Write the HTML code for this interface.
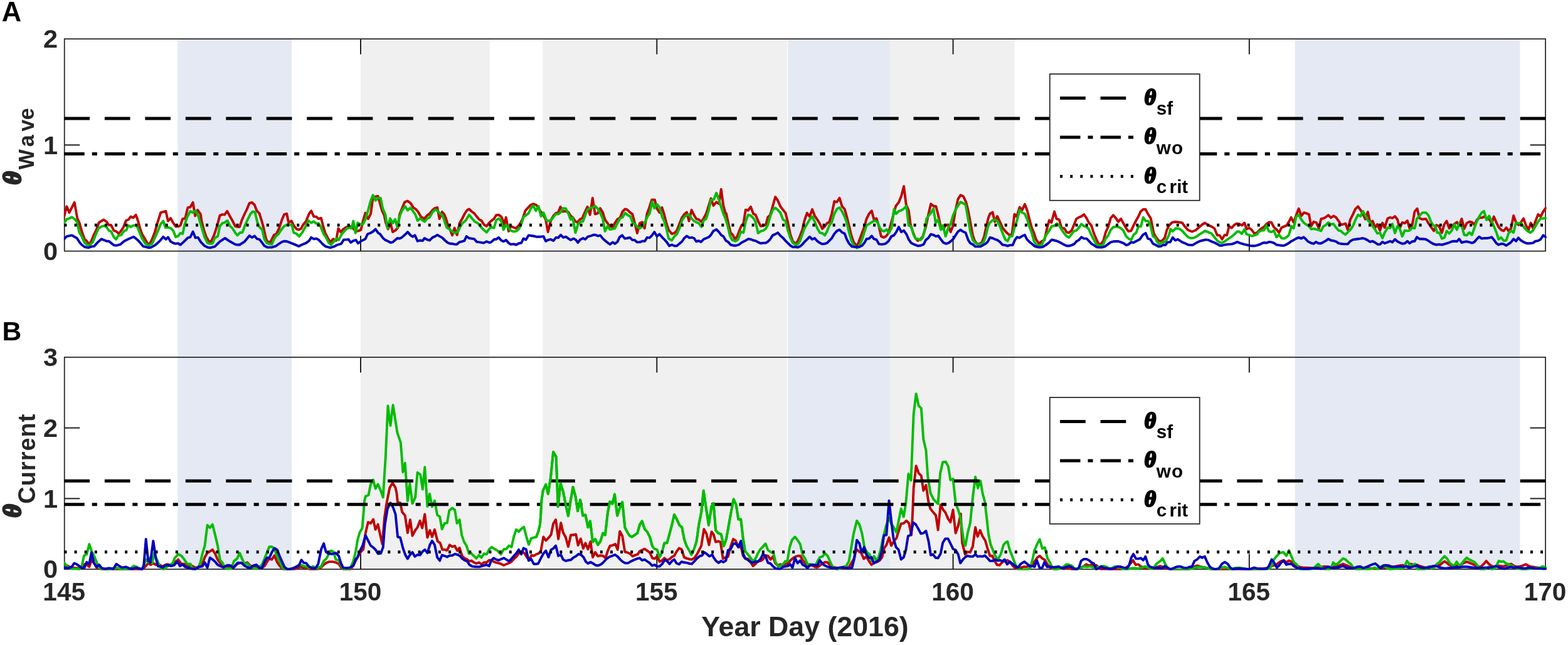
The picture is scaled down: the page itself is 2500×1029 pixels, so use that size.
<!DOCTYPE html>
<html lang="en"><head><meta charset="utf-8"><title>Figure</title>
<style>html,body{margin:0;padding:0;background:#fff;}body{width:2500px;height:1029px;overflow:hidden;}svg{display:block;}text{font-family:"Liberation Sans",sans-serif;font-weight:bold;fill:#262626;}.th{font-family:"Liberation Serif",serif;font-style:italic;font-weight:bold;}.k{fill:#000;}.th{stroke:#262626;stroke-width:3.1px;stroke-linejoin:round;}.th.k{stroke:#000;stroke-width:2.7px;}</style></head><body>
<svg width="2500" height="1029" viewBox="0 0 2500 1029">
<rect x="0" y="0" width="2500" height="1029" fill="#fff"/>
<defs><clipPath id="ca"><rect x="101.85" y="61.20" width="2363.95" height="341.10"/></clipPath>
<clipPath id="cg"><rect x="852" y="569.90" width="408" height="302.10"/></clipPath>
<clipPath id="cb"><rect x="101.85" y="569.00" width="2363.95" height="340.80"/></clipPath></defs>
<g shape-rendering="auto">
<rect x="575.0" y="62.9" width="205.8" height="845.2" fill="#f0f0f0"/>
<rect x="865.4" y="62.9" width="389.8" height="845.2" fill="#f0f0f0"/>
<rect x="1418.0" y="62.9" width="199.7" height="845.2" fill="#f0f0f0"/>
<rect x="283.4" y="62.9" width="181.6" height="845.2" fill="#e5e9f3"/>
<rect x="1256.4" y="62.9" width="162.3" height="845.2" fill="#e5e9f3"/>
<rect x="2064.7" y="62.9" width="358.7" height="845.2" fill="#e5e9f3"/>
</g>
<g stroke="#202020" stroke-width="2.0" fill="none">
<line x1="575.02" y1="400.60" x2="575.02" y2="376.10"/>
<line x1="575.02" y1="62.10" x2="575.02" y2="86.60"/>
<line x1="1047.29" y1="400.60" x2="1047.29" y2="376.10"/>
<line x1="1047.29" y1="62.10" x2="1047.29" y2="86.60"/>
<line x1="1519.56" y1="400.60" x2="1519.56" y2="376.10"/>
<line x1="1519.56" y1="62.10" x2="1519.56" y2="86.60"/>
<line x1="1991.83" y1="400.60" x2="1991.83" y2="376.10"/>
<line x1="1991.83" y1="62.10" x2="1991.83" y2="86.60"/>
<line x1="102.75" y1="231.35" x2="127.25" y2="231.35"/>
<line x1="2464.10" y1="231.35" x2="2439.60" y2="231.35"/>
</g>
<rect x="102.75" y="62.10" width="2361.35" height="338.50" fill="none" stroke="#262626" stroke-width="1.75"/>
<g fill="none" stroke-width="3.9" stroke-linejoin="round" stroke-linecap="round" clip-path="url(#ca)">
<path d="M101.7,347.4 L106.4,329.3 L110.5,339.2 L118.7,322.9 L123.3,348.5 L126.8,356.1 L130.3,369.0 L135.0,381.8 L137.9,384.1 L141.4,388.8 L144.9,385.9 L150.1,373.6 L153.6,366.6 L157.7,355.0 L165.3,350.5 L170.0,353.8 L173.5,359.0 L177.0,359.0 L181.6,367.8 L185.1,369.0 L189.2,372.5 L192.1,369.5 L196.8,362.5 L200.9,352.0 L204.9,350.3 L208.4,345.6 L212.5,347.4 L216.6,342.7 L220.1,352.6 L223.6,365.5 L226.5,373.6 L229.4,378.3 L235.3,388.8 L238.2,389.4 L241.7,383.5 L246.9,370.1 L251.6,353.8 L256.2,339.2 L264.4,336.9 L267.9,352.6 L272.0,348.0 L276.1,355.5 L280.2,361.4 L284.2,361.4 L287.7,359.6 L291.2,349.1 L295.3,348.5 L299.4,331.1 L303.5,330.5 L307.6,322.9 L311.1,344.5 L315.1,335.1 L319.8,341.6 L321.5,352.6 L325.0,366.6 L328.5,377.1 L333.2,385.3 L336.7,385.3 L341.4,374.8 L346.0,360.8 L350.5,343.9 L354.6,342.1 L358.1,342.7 L362.2,336.9 L366.8,345.6 L370.3,351.5 L375.0,360.8 L378.5,362.0 L382.0,362.0 L385.5,351.5 L390.1,341.0 L393.6,334.0 L397.7,324.1 L401.8,322.9 L405.9,327.0 L409.4,336.3 L413.5,340.4 L417.0,351.5 L420.5,364.3 L424.0,380.6 L426.3,385.3 L431.0,386.4 L433.3,381.8 L436.8,374.8 L440.3,373.6 L444.9,364.3 L449.6,350.3 L453.1,342.1 L457.2,341.0 L460.1,355.0 L464.8,352.6 L468.3,359.6 L472.9,365.5 L476.4,366.6 L479.9,364.9 L483.4,358.5 L488.1,352.6 L492.8,341.0 L496.2,336.3 L500.3,345.6 L503.8,345.6 L507.9,349.1 L512.0,348.0 L514.9,359.6 L518.4,371.3 L523.1,380.6 L526.6,386.4 L531.2,381.2 L535.9,384.1 L539.4,364.3 L542.9,370.1 L547.6,365.5 L552.2,362.5 L556.9,360.8 L561.5,362.5 L563.9,365.5 L567.4,369.0 L571.5,368.4 L575.5,366.6 L579.0,351.5 L582.5,339.8 L586.0,348.0 L587.0,349.1 L591.1,341.0 L594.6,315.3 L598.7,313.6 L602.7,313.0 L606.2,325.8 L609.2,336.3 L612.6,343.3 L615.0,355.0 L618.5,365.5 L622.6,356.1 L626.1,370.1 L630.1,367.8 L634.2,363.7 L637.1,342.1 L641.8,330.5 L645.3,322.3 L650.0,320.6 L654.6,324.1 L659.3,331.6 L662.8,333.4 L666.3,337.5 L671.0,345.6 L676.2,349.1 L681.4,343.3 L684.9,341.0 L689.6,335.1 L693.1,332.2 L697.2,331.1 L700.7,349.1 L704.8,338.1 L708.3,342.1 L711.2,349.1 L714.1,359.6 L717.6,366.6 L721.1,375.4 L724.6,363.7 L728.7,374.8 L732.8,356.1 L736.2,350.3 L740.9,341.0 L744.4,335.7 L747.9,333.4 L752.0,337.5 L756.1,340.4 L760.2,345.6 L764.2,350.3 L767.7,352.0 L771.8,358.5 L775.9,360.8 L779.4,356.1 L782.9,352.6 L787.6,349.1 L791.1,343.3 L795.1,342.7 L799.2,345.6 L801.5,350.3 L803.3,360.8 L806.8,346.8 L810.9,369.0 L814.4,360.8 L817.9,362.5 L822.5,364.3 L826.0,360.8 L829.3,356.7 L832.8,350.3 L837.5,336.3 L841.6,331.6 L846.2,327.0 L850.3,325.2 L855.0,327.0 L858.5,331.6 L862.0,337.5 L866.1,342.7 L870.1,350.3 L873.6,370.1 L878.3,351.5 L883.0,343.3 L886.5,339.8 L890.0,339.2 L893.5,329.9 L897.5,337.5 L901.6,336.9 L906.3,338.6 L909.8,344.5 L913.3,346.8 L916.8,352.6 L920.3,355.0 L924.9,349.7 L928.4,348.0 L932.5,338.6 L936.6,329.9 L940.7,342.7 L944.8,315.9 L948.8,341.6 L952.9,340.4 L957.0,332.2 L961.1,339.2 L964.6,350.3 L968.7,356.1 L972.8,361.4 L976.8,362.0 L980.3,356.1 L984.4,349.7 L988.5,347.4 L992.6,337.5 L996.7,333.4 L1000.2,334.6 L1004.2,338.6 L1008.3,341.6 L1011.8,355.0 L1015.9,371.9 L1020.0,356.1 L1024.1,354.4 L1027.6,364.3 L1031.6,341.0 L1035.1,331.6 L1039.2,318.8 L1043.9,318.8 L1047.4,332.8 L1051.5,339.2 L1055.5,331.1 L1059.0,342.1 L1062.5,356.1 L1066.0,366.6 L1071.1,373.0 L1075.2,371.9 L1079.2,367.8 L1083.3,357.3 L1087.4,346.8 L1090.9,342.1 L1095.0,338.6 L1098.5,352.6 L1102.6,335.1 L1106.6,343.3 L1110.1,349.1 L1114.2,350.3 L1118.3,353.8 L1121.8,348.5 L1125.9,341.0 L1130.0,328.1 L1133.5,316.5 L1137.5,328.1 L1142.2,322.3 L1146.3,325.2 L1149.8,301.9 L1153.3,328.1 L1156.8,340.4 L1157.9,340.4 L1161.4,357.3 L1164.9,371.3 L1168.4,374.8 L1171.9,381.8 L1175.4,377.1 L1178.9,367.8 L1182.4,359.6 L1185.3,357.3 L1188.8,334.6 L1192.9,335.7 L1197.0,329.9 L1201.1,341.0 L1204.6,342.7 L1208.7,352.6 L1212.8,360.8 L1216.8,360.2 L1220.9,358.5 L1224.4,346.2 L1227.9,343.3 L1232.0,329.3 L1236.1,314.2 L1240.2,320.0 L1244.2,329.3 L1248.3,334.6 L1252.4,339.8 L1255.9,353.8 L1260.0,373.6 L1264.1,385.3 L1268.7,388.8 L1272.2,384.1 L1275.7,376.0 L1279.2,366.6 L1282.7,351.5 L1286.8,339.8 L1290.9,345.6 L1295.0,334.0 L1299.0,344.5 L1303.1,350.3 L1307.2,357.3 L1311.1,364.9 L1315.2,360.8 L1318.7,356.1 L1322.2,354.4 L1326.2,341.0 L1330.3,321.1 L1334.4,322.3 L1338.5,315.9 L1342.6,329.3 L1346.6,333.4 L1350.1,345.6 L1353.6,359.6 L1357.1,374.8 L1360.6,385.3 L1364.1,390.5 L1367.6,390.5 L1371.1,380.6 L1374.6,371.3 L1378.1,362.0 L1381.6,349.1 L1385.7,341.0 L1389.8,336.3 L1393.3,349.7 L1397.4,348.5 L1400.9,359.6 L1404.9,377.1 L1409.0,378.9 L1412.5,377.1 L1416.6,371.9 L1420.1,358.5 L1424.2,343.3 L1428.3,328.7 L1432.9,322.9 L1437.0,313.0 L1441.1,297.2 L1444.6,325.8 L1448.7,335.7 L1451.6,357.3 L1455.1,369.0 L1459.2,379.4 L1463.2,384.1 L1467.3,381.8 L1471.4,377.1 L1476.1,362.0 L1480.2,342.1 L1484.2,325.2 L1488.3,328.7 L1492.4,329.3 L1495.9,343.3 L1500.0,362.0 L1504.1,365.5 L1507.6,359.6 L1511.6,358.5 L1515.7,370.1 L1519.2,360.8 L1523.3,336.3 L1527.4,317.6 L1531.5,311.2 L1536.1,313.6 L1540.2,322.3 L1543.7,336.3 L1547.2,355.0 L1551.1,376.0 L1554.0,384.1 L1557.5,388.8 L1561.6,389.4 L1565.7,386.4 L1569.2,377.1 L1572.6,360.8 L1576.1,346.8 L1578.5,341.0 L1582.6,338.6 L1586.1,353.8 L1590.1,345.1 L1594.2,353.8 L1598.3,363.1 L1603.0,369.0 L1606.5,372.5 L1610.0,375.4 L1613.5,373.6 L1617.5,341.6 L1621.0,345.6 L1625.7,330.5 L1629.8,335.1 L1633.9,325.8 L1637.9,336.3 L1641.4,350.3 L1644.9,363.1 L1648.4,371.3 L1651.9,381.8 L1656.6,388.8 L1661.3,384.7 L1665.3,382.9 L1668.8,366.6 L1672.9,351.5 L1676.4,355.0 L1681.1,337.5 L1684.6,349.1 L1688.7,350.3 L1692.8,364.3 L1696.8,364.3 L1700.9,370.7 L1704.4,371.3 L1708.5,367.8 L1712.0,359.6 L1716.1,349.1 L1720.2,346.8 L1724.2,345.1 L1728.3,342.1 L1732.4,348.0 L1735.9,355.0 L1740.0,359.6 L1744.1,372.5 L1748.1,381.8 L1751.6,389.4 L1755.7,388.8 L1759.2,384.1 L1762.7,371.3 L1766.8,362.0 L1770.9,348.0 L1775.0,343.3 L1779.0,348.0 L1783.1,353.8 L1787.2,349.1 L1791.7,357.3 L1795.7,364.3 L1799.2,369.0 L1803.3,368.4 L1807.4,359.6 L1811.5,351.5 L1815.0,345.6 L1818.5,337.5 L1822.6,334.0 L1826.6,334.0 L1830.1,341.0 L1834.8,348.5 L1837.1,359.6 L1839.5,371.9 L1843.0,378.3 L1847.6,384.1 L1852.3,384.7 L1857.0,379.4 L1860.5,366.6 L1864.0,359.6 L1868.6,355.0 L1873.3,353.8 L1879.1,354.4 L1884.9,355.5 L1889.6,362.0 L1894.3,367.2 L1900.7,369.5 L1906.5,367.2 L1911.8,362.5 L1916.4,358.5 L1921.1,355.5 L1925.8,359.0 L1931.6,361.4 L1936.2,364.3 L1940.9,375.4 L1944.4,375.4 L1948.5,381.8 L1952.6,374.8 L1956.1,375.4 L1959.6,360.8 L1963.7,363.7 L1967.7,359.0 L1971.8,356.7 L1975.9,357.3 L1980.0,359.6 L1984.1,355.5 L1987.6,365.5 L1991.6,363.7 L1995.7,366.6 L1999.8,372.5 L2003.9,371.3 L2007.4,367.8 L2011.5,364.3 L2015.5,362.0 L2019.0,357.3 L2023.7,354.4 L2027.2,355.0 L2031.1,362.5 L2035.2,366.0 L2039.2,371.3 L2043.3,363.1 L2047.4,361.4 L2051.5,359.6 L2055.0,353.8 L2058.5,346.8 L2062.6,355.0 L2066.6,343.3 L2070.7,332.8 L2074.8,344.5 L2078.9,339.2 L2083.0,340.4 L2087.0,342.1 L2090.5,360.8 L2094.6,353.8 L2098.7,355.0 L2102.8,364.3 L2106.3,349.1 L2109.8,348.5 L2113.3,346.8 L2117.9,343.3 L2122.0,347.4 L2126.1,344.5 L2130.2,346.8 L2134.3,352.6 L2137.8,358.5 L2141.3,357.9 L2145.3,356.7 L2148.8,366.6 L2152.9,350.3 L2157.0,342.1 L2161.1,333.4 L2165.2,329.3 L2169.3,335.1 L2172.8,341.0 L2176.8,349.7 L2180.9,338.1 L2184.4,355.0 L2188.5,352.6 L2192.6,363.1 L2196.1,357.9 L2200.2,367.8 L2204.2,355.5 L2207.7,363.1 L2212.4,348.5 L2216.5,346.8 L2220.0,348.0 L2224.1,345.1 L2228.1,350.3 L2231.6,364.3 L2235.7,355.0 L2239.8,356.1 L2243.9,352.0 L2247.4,364.3 L2251.5,359.6 L2255.5,337.5 L2259.6,332.8 L2263.1,348.0 L2267.2,349.7 L2268.7,349.7 L2273.3,349.1 L2277.4,356.1 L2281.5,362.0 L2286.1,368.4 L2290.2,359.0 L2294.3,360.8 L2299.0,371.3 L2302.5,358.5 L2306.6,352.6 L2310.6,364.3 L2314.7,360.8 L2318.8,357.3 L2322.9,354.4 L2326.4,359.6 L2330.5,349.1 L2334.5,364.9 L2338.6,356.1 L2342.7,353.8 L2346.8,354.4 L2350.9,358.5 L2354.9,350.3 L2359.0,347.4 L2362.5,347.4 L2366.6,345.6 L2370.7,348.5 L2374.8,350.3 L2378.3,356.1 L2381.8,345.6 L2385.8,355.0 L2389.9,363.1 L2394.0,367.2 L2397.5,368.4 L2401.6,363.1 L2405.1,368.4 L2409.2,364.3 L2413.2,343.9 L2417.3,355.5 L2421.4,359.0 L2424.9,355.0 L2429.0,348.5 L2433.1,359.6 L2437.2,366.6 L2440.6,355.5 L2444.1,364.3 L2448.2,352.6 L2452.3,342.1 L2456.4,345.6 L2460.5,337.5 L2464.3,332.2" stroke="#bf0000"/>
<path d="M101.7,356.1 L106.4,349.7 L110.5,348.5 L114.6,346.2 L119.8,350.3 L123.3,355.0 L126.2,370.1 L130.3,377.1 L135.0,387.6 L138.5,390.5 L143.1,391.1 L147.8,386.4 L152.5,374.8 L157.1,364.3 L161.8,361.4 L166.5,360.2 L170.0,362.5 L173.5,367.8 L177.0,369.0 L181.6,378.3 L185.1,381.8 L188.6,376.0 L193.3,374.8 L197.9,368.4 L201.4,367.2 L204.4,359.6 L208.4,362.0 L213.1,359.6 L217.8,359.6 L221.3,367.8 L225.9,379.4 L231.8,388.8 L237.6,391.7 L242.3,388.8 L246.9,379.4 L251.6,369.0 L256.2,357.3 L260.3,352.6 L263.8,363.1 L267.9,362.5 L272.6,364.3 L276.1,367.8 L280.2,378.3 L284.2,376.5 L287.7,371.9 L291.2,373.0 L294.1,359.6 L298.2,346.8 L303.5,336.9 L307.0,339.2 L311.6,336.3 L315.7,343.3 L319.2,355.0 L322.7,366.6 L326.2,378.3 L330.9,387.6 L334.4,388.8 L339.0,388.2 L342.5,379.4 L347.2,377.1 L350.5,360.8 L354.6,356.1 L358.1,355.0 L362.7,352.0 L366.8,360.8 L370.3,363.7 L375.0,371.3 L378.5,375.4 L382.6,371.3 L386.6,370.7 L390.1,360.8 L394.8,350.3 L399.5,341.0 L403.0,337.5 L406.5,338.1 L410.0,353.8 L413.5,362.0 L418.1,366.6 L421.6,381.8 L425.1,387.6 L429.8,389.4 L433.3,389.9 L436.8,381.8 L440.3,376.5 L443.8,373.6 L448.4,366.6 L453.1,360.8 L457.8,358.5 L461.3,358.5 L465.3,358.5 L468.3,371.3 L472.3,372.5 L477.0,377.1 L481.7,371.3 L486.9,362.0 L491.6,352.0 L496.2,355.5 L500.3,353.2 L504.4,356.7 L507.9,356.1 L511.4,362.0 L516.1,373.6 L519.6,378.3 L524.2,387.6 L527.7,390.5 L531.2,386.4 L536.5,380.6 L540.0,382.9 L544.1,374.8 L548.7,369.0 L553.4,364.3 L556.9,363.1 L560.4,364.3 L563.3,352.6 L566.8,371.9 L570.3,355.5 L574.4,357.9 L578.5,357.9 L582.5,350.3 L586.0,338.6 L587.0,335.1 L591.1,320.0 L594.6,311.2 L598.7,320.0 L602.7,315.9 L606.8,315.9 L610.3,332.8 L614.4,342.1 L617.9,364.3 L622.0,348.5 L626.1,356.1 L630.1,349.7 L633.6,363.1 L637.1,345.6 L640.6,336.3 L645.9,329.3 L650.0,335.7 L654.0,331.6 L658.1,336.3 L662.2,342.1 L665.7,352.0 L669.8,348.5 L676.8,353.8 L681.4,348.5 L684.9,346.8 L689.6,338.6 L693.7,334.6 L697.8,336.3 L701.3,340.4 L705.3,343.3 L708.3,351.5 L712.3,363.1 L716.4,365.5 L721.1,369.5 L725.8,371.9 L730.4,369.0 L733.9,361.4 L737.4,356.1 L742.7,351.5 L747.9,342.7 L752.6,348.5 L757.2,353.8 L761.9,356.1 L766.6,362.0 L771.2,366.6 L775.9,370.7 L780.6,364.3 L784.1,362.5 L787.6,363.7 L791.1,351.5 L795.1,348.5 L799.2,352.6 L802.7,366.6 L806.8,358.5 L810.3,363.1 L814.4,367.8 L819.0,369.5 L823.7,368.4 L827.2,365.5 L831.7,356.1 L834.6,346.2 L838.7,343.3 L842.7,340.4 L846.2,332.8 L850.3,328.1 L854.4,336.3 L858.5,328.7 L862.6,345.1 L866.6,339.2 L871.3,351.5 L875.4,352.6 L879.5,350.3 L885.9,341.6 L890.0,341.6 L894.0,338.6 L897.5,332.2 L902.2,332.8 L906.3,341.0 L909.8,350.3 L913.3,347.4 L917.4,371.3 L921.4,358.5 L924.9,353.8 L929.6,353.2 L933.1,343.3 L936.6,334.6 L940.7,332.2 L944.8,331.1 L948.8,328.7 L952.9,332.8 L957.0,339.8 L961.1,349.1 L964.6,369.0 L968.7,360.8 L972.2,366.0 L976.2,365.5 L980.3,364.3 L984.4,356.1 L988.5,348.5 L992.6,346.8 L996.7,339.8 L1000.7,343.3 L1004.8,345.1 L1008.9,355.5 L1012.4,357.3 L1015.9,362.0 L1020.0,364.3 L1024.1,361.4 L1028.1,355.0 L1032.2,345.6 L1035.7,341.0 L1039.8,321.7 L1043.3,332.2 L1047.4,325.8 L1051.5,330.5 L1055.5,345.6 L1059.0,352.6 L1062.5,364.3 L1066.0,380.6 L1071.1,383.5 L1075.2,377.1 L1079.2,373.6 L1083.3,364.3 L1087.4,351.5 L1091.5,345.6 L1095.0,343.3 L1098.5,342.1 L1102.6,348.5 L1106.6,352.6 L1110.1,354.4 L1114.2,356.1 L1118.3,362.0 L1121.8,352.0 L1125.9,349.1 L1130.0,335.1 L1133.5,318.8 L1138.1,318.2 L1142.2,307.7 L1146.3,318.8 L1149.8,330.5 L1153.3,341.0 L1156.8,349.1 L1160.3,360.8 L1163.8,376.0 L1167.3,382.9 L1172.5,384.7 L1176.6,382.4 L1181.3,369.5 L1185.3,371.3 L1188.8,353.8 L1192.9,342.7 L1197.0,343.9 L1201.1,348.0 L1204.6,353.8 L1208.7,371.9 L1212.8,369.0 L1216.8,367.8 L1220.9,364.9 L1224.4,358.5 L1227.9,345.6 L1232.0,335.1 L1236.1,331.6 L1240.2,335.1 L1244.2,339.2 L1248.3,350.3 L1252.4,352.6 L1255.9,366.6 L1260.0,379.4 L1264.1,387.6 L1268.7,390.5 L1272.2,389.4 L1275.7,384.1 L1279.2,373.6 L1282.7,364.3 L1286.8,357.3 L1290.9,350.3 L1295.0,345.6 L1299.0,353.8 L1303.1,364.3 L1307.2,371.3 L1311.1,371.9 L1315.2,375.4 L1318.7,369.0 L1322.2,359.6 L1326.2,354.4 L1330.3,341.0 L1334.4,333.4 L1338.5,331.1 L1342.6,337.5 L1346.6,345.6 L1350.1,355.0 L1353.6,370.1 L1357.1,382.9 L1360.6,390.5 L1366.5,395.8 L1371.1,389.9 L1374.6,381.8 L1378.1,370.1 L1381.6,359.6 L1385.7,357.3 L1389.8,354.4 L1394.4,352.0 L1398.5,353.8 L1402.6,363.1 L1406.1,367.8 L1409.6,369.0 L1413.7,366.0 L1417.2,371.9 L1421.3,364.3 L1425.3,334.0 L1428.8,341.0 L1432.9,336.9 L1437.0,335.7 L1441.1,332.8 L1445.2,328.7 L1448.7,359.6 L1452.8,361.4 L1456.2,373.6 L1459.7,380.6 L1463.2,381.2 L1467.9,382.9 L1471.4,378.3 L1474.9,364.3 L1477.2,349.1 L1480.2,344.5 L1484.2,339.8 L1488.3,332.8 L1491.8,355.5 L1495.9,350.3 L1500.0,366.6 L1503.5,359.6 L1507.6,377.1 L1511.6,364.3 L1515.7,357.3 L1519.2,344.5 L1523.3,335.1 L1527.4,328.1 L1531.5,322.3 L1535.5,324.1 L1539.6,327.0 L1543.7,350.3 L1547.2,370.1 L1551.1,382.9 L1555.2,387.6 L1559.8,389.9 L1564.5,389.4 L1568.6,385.3 L1571.5,377.1 L1575.0,362.0 L1578.5,355.0 L1582.6,351.5 L1586.1,350.3 L1590.1,352.6 L1594.2,360.8 L1598.3,371.3 L1603.0,382.4 L1606.5,384.7 L1610.0,377.1 L1614.0,376.5 L1617.5,363.1 L1621.6,351.5 L1625.7,335.1 L1629.8,339.2 L1633.9,341.0 L1637.9,350.3 L1641.4,362.0 L1644.9,371.3 L1648.4,384.1 L1651.9,390.5 L1656.6,391.7 L1661.3,389.9 L1665.3,380.6 L1668.8,373.6 L1672.9,367.8 L1677.0,360.8 L1681.1,360.2 L1685.2,356.7 L1688.7,359.6 L1692.8,366.6 L1696.8,372.5 L1700.9,377.1 L1704.4,378.9 L1708.5,373.6 L1712.6,368.4 L1716.1,367.8 L1720.2,363.1 L1724.2,357.3 L1728.3,360.8 L1732.4,362.0 L1735.9,365.5 L1740.0,374.8 L1744.1,382.9 L1748.1,389.9 L1751.6,391.1 L1755.7,392.3 L1759.2,389.9 L1762.7,380.6 L1766.8,376.0 L1770.9,366.6 L1775.0,362.5 L1779.0,361.4 L1783.1,362.0 L1787.2,364.3 L1791.1,367.8 L1795.2,376.5 L1799.2,380.6 L1803.3,382.9 L1807.4,374.8 L1811.5,371.3 L1815.0,361.4 L1819.1,361.4 L1822.6,346.8 L1826.6,352.6 L1830.7,352.6 L1834.2,359.6 L1838.3,377.1 L1841.8,378.9 L1845.3,386.4 L1848.8,389.4 L1852.9,386.4 L1857.0,386.4 L1860.5,381.8 L1864.0,374.2 L1866.3,365.5 L1869.8,369.0 L1874.4,364.3 L1880.3,364.9 L1884.9,368.4 L1889.6,373.6 L1894.3,378.3 L1898.9,380.0 L1903.6,379.4 L1908.3,377.1 L1912.9,373.6 L1917.0,371.3 L1921.1,368.4 L1925.8,370.1 L1931.6,372.5 L1936.2,378.3 L1940.9,384.1 L1944.4,386.4 L1947.9,387.6 L1952.6,385.3 L1957.2,381.8 L1964.2,377.1 L1968.9,373.0 L1972.4,369.5 L1975.9,369.5 L1980.0,373.0 L1984.1,366.0 L1987.6,373.6 L1991.6,374.8 L1995.7,376.5 L2000.4,375.4 L2003.9,374.2 L2007.4,369.5 L2011.5,367.8 L2015.5,367.2 L2019.0,359.6 L2023.1,369.0 L2027.2,370.1 L2031.1,367.8 L2035.2,378.3 L2039.2,374.2 L2043.3,380.0 L2047.4,380.6 L2051.5,378.3 L2055.0,374.8 L2059.1,360.8 L2062.6,364.3 L2066.6,345.6 L2070.7,342.7 L2074.8,350.3 L2078.9,355.5 L2083.0,358.5 L2087.0,360.8 L2090.5,365.5 L2094.6,364.9 L2098.7,366.0 L2102.8,367.2 L2106.3,368.4 L2109.8,361.4 L2113.9,359.0 L2117.9,355.0 L2122.0,357.9 L2126.1,357.3 L2130.2,363.1 L2134.3,367.8 L2137.8,368.4 L2141.3,371.9 L2145.3,374.2 L2148.8,370.7 L2152.9,366.6 L2157.0,360.8 L2161.1,350.9 L2165.2,342.7 L2169.3,345.1 L2172.8,336.9 L2176.8,343.3 L2180.9,351.5 L2184.4,355.0 L2188.5,360.8 L2192.6,366.6 L2196.1,372.5 L2200.2,371.3 L2204.2,380.0 L2207.7,371.3 L2212.4,363.1 L2216.5,363.7 L2220.0,357.3 L2224.1,371.9 L2228.1,360.8 L2231.6,364.3 L2235.7,377.1 L2239.8,367.8 L2243.9,368.4 L2247.4,367.8 L2251.5,363.1 L2255.5,364.3 L2259.0,349.1 L2263.1,344.5 L2267.2,339.8 L2268.7,339.2 L2273.3,339.2 L2277.4,343.3 L2281.5,353.8 L2285.0,359.6 L2288.5,360.8 L2291.4,371.3 L2294.9,371.3 L2299.0,380.6 L2303.1,378.9 L2306.6,368.4 L2310.6,372.5 L2314.7,367.8 L2318.8,357.9 L2322.9,366.6 L2326.4,356.7 L2330.5,360.8 L2334.5,374.8 L2338.6,375.4 L2342.7,370.7 L2346.8,374.8 L2350.9,363.1 L2354.9,352.6 L2359.0,344.5 L2362.5,339.2 L2366.0,336.9 L2370.1,350.9 L2374.2,344.5 L2378.3,352.6 L2381.8,360.8 L2385.8,370.7 L2389.3,381.8 L2393.4,378.9 L2397.5,384.1 L2401.6,383.5 L2405.1,372.5 L2409.2,367.8 L2413.2,371.3 L2416.7,355.5 L2421.4,356.1 L2426.1,356.7 L2430.2,363.1 L2434.2,367.8 L2440.1,371.3 L2444.1,367.8 L2448.2,360.8 L2452.3,353.8 L2456.4,348.5 L2460.5,348.5 L2464.3,348.0" stroke="#00bc00"/>
<path d="M102.3,381.2 L106.4,377.1 L114.6,375.4 L118.7,377.7 L122.7,380.0 L126.8,386.4 L130.3,390.5 L135.0,394.0 L140.8,395.2 L146.1,393.4 L150.1,392.9 L156.0,386.4 L161.8,381.2 L170.0,384.7 L173.5,384.7 L177.0,387.6 L181.6,391.1 L185.7,391.7 L192.1,389.9 L197.9,384.7 L204.9,381.2 L213.1,377.7 L216.6,380.6 L220.7,384.1 L224.8,388.8 L228.3,392.9 L237.0,395.2 L241.1,394.6 L248.1,390.5 L255.1,384.1 L260.3,377.7 L264.4,381.8 L267.9,378.3 L272.0,385.3 L276.1,387.6 L280.2,388.8 L283.7,388.2 L287.7,390.5 L292.4,386.4 L299.4,379.4 L303.5,378.3 L307.6,369.5 L311.6,379.4 L315.7,378.9 L320.4,386.4 L326.2,392.3 L330.9,394.6 L335.5,395.2 L342.5,393.4 L350.5,385.3 L358.7,380.0 L366.8,385.3 L375.0,389.9 L378.5,390.5 L382.0,390.5 L390.1,385.3 L397.7,376.0 L401.8,378.9 L405.9,376.5 L410.0,381.2 L413.5,381.8 L417.0,385.9 L421.6,392.3 L426.3,394.6 L433.3,394.6 L440.3,392.3 L444.9,388.8 L449.6,385.9 L453.7,384.7 L457.8,385.3 L468.3,389.4 L476.4,392.9 L481.1,390.5 L488.1,387.6 L492.8,384.1 L496.2,378.9 L500.3,381.2 L504.4,380.6 L507.9,382.4 L514.9,389.9 L519.6,393.4 L526.6,395.2 L532.4,393.4 L538.2,390.5 L544.1,388.8 L548.1,382.4 L552.2,382.4 L555.7,381.8 L559.2,387.0 L563.3,384.1 L567.4,382.9 L570.9,388.2 L575.5,384.7 L582.5,381.2 L586.0,373.6 L587.0,373.0 L590.5,371.9 L594.6,369.5 L598.7,365.5 L602.7,371.3 L606.2,373.6 L610.3,379.4 L614.4,382.9 L618.5,384.7 L622.6,387.0 L626.1,386.4 L630.1,382.9 L633.6,380.0 L637.1,380.6 L640.6,378.9 L645.3,374.8 L650.0,370.1 L654.6,375.4 L658.1,377.7 L661.6,375.4 L665.7,384.7 L669.8,383.5 L673.9,384.1 L676.8,380.0 L681.4,382.4 L684.9,383.5 L689.6,378.9 L693.7,377.1 L697.2,374.8 L701.3,377.1 L705.3,379.4 L709.4,383.5 L713.5,387.0 L717.6,388.8 L721.1,388.8 L725.8,389.9 L728.1,389.9 L732.2,386.4 L736.2,385.3 L740.3,384.1 L743.8,377.1 L747.9,380.0 L752.0,380.6 L756.1,381.2 L760.2,385.9 L764.2,386.4 L771.2,387.6 L775.9,385.3 L780.0,387.0 L782.9,386.4 L788.1,381.8 L791.1,381.8 L795.1,378.9 L799.2,383.5 L802.7,385.3 L806.8,382.9 L810.9,387.6 L814.4,389.9 L819.0,389.4 L823.1,390.5 L827.2,388.2 L831.1,387.6 L834.6,380.6 L838.7,382.4 L842.7,375.4 L846.8,376.0 L850.3,376.5 L855.0,377.7 L860.8,377.7 L866.6,377.1 L870.1,384.7 L873.6,382.9 L877.7,381.8 L882.4,384.1 L886.5,378.9 L890.0,379.4 L894.0,374.8 L898.1,378.9 L902.2,377.7 L906.3,380.6 L909.8,382.9 L914.4,380.6 L917.9,382.4 L921.4,387.0 L924.9,382.4 L929.6,380.0 L933.1,381.8 L937.2,377.7 L941.3,376.5 L945.9,374.8 L949.4,374.8 L953.5,376.5 L957.0,375.4 L961.1,380.6 L965.8,384.7 L969.3,387.6 L972.8,389.9 L976.8,386.4 L980.3,388.8 L984.4,385.9 L987.9,378.3 L992.0,375.4 L996.1,380.6 L1000.2,380.0 L1004.2,378.9 L1008.3,382.9 L1011.8,382.9 L1015.9,386.4 L1020.0,386.4 L1024.1,384.7 L1028.1,384.7 L1031.6,378.9 L1035.7,379.4 L1039.2,376.0 L1043.3,370.1 L1047.4,377.1 L1051.5,373.6 L1055.5,378.3 L1059.0,381.8 L1063.1,386.4 L1067.2,392.3 L1071.1,390.5 L1075.2,392.3 L1079.2,392.3 L1083.3,388.8 L1087.4,385.3 L1090.9,380.0 L1095.0,376.5 L1099.1,379.4 L1103.1,378.9 L1106.6,380.0 L1110.1,385.3 L1113.6,384.1 L1117.7,385.9 L1121.8,381.8 L1125.9,380.0 L1130.0,378.3 L1133.5,374.8 L1137.5,368.4 L1142.2,366.0 L1146.3,370.1 L1149.8,374.8 L1153.3,377.1 L1157.4,384.1 L1160.9,385.9 L1164.9,390.5 L1169.6,391.7 L1173.7,391.7 L1177.8,390.5 L1182.4,387.0 L1188.3,384.1 L1192.9,381.2 L1197.0,381.8 L1201.1,383.5 L1204.6,384.1 L1208.7,386.4 L1212.8,388.2 L1216.8,387.6 L1220.9,387.6 L1224.4,385.3 L1227.9,381.8 L1232.0,375.4 L1236.1,373.6 L1240.2,371.3 L1244.2,376.0 L1248.3,379.4 L1252.4,384.1 L1255.9,387.6 L1260.0,391.7 L1264.1,394.0 L1268.7,394.0 L1272.2,394.6 L1275.7,392.9 L1279.2,389.9 L1282.7,385.9 L1286.8,381.8 L1290.9,377.7 L1295.0,381.8 L1299.0,380.0 L1303.1,384.7 L1307.2,387.6 L1311.1,389.4 L1315.2,388.8 L1318.7,387.6 L1322.2,384.1 L1326.2,380.0 L1330.3,373.0 L1334.4,368.4 L1338.5,366.6 L1342.6,370.7 L1346.6,372.5 L1350.1,381.8 L1353.6,388.2 L1358.3,393.4 L1364.1,394.0 L1370.0,394.0 L1374.6,391.7 L1378.1,387.6 L1381.6,381.2 L1385.7,380.6 L1389.8,376.5 L1393.3,381.2 L1397.4,382.4 L1401.4,389.4 L1406.1,389.9 L1411.9,388.8 L1416.6,384.7 L1421.3,377.1 L1425.3,375.4 L1429.4,369.5 L1432.9,362.0 L1437.0,370.1 L1441.1,367.8 L1445.2,373.6 L1448.7,381.8 L1452.8,387.6 L1457.4,389.9 L1463.2,392.3 L1467.9,391.7 L1472.6,389.9 L1476.1,382.9 L1480.2,379.4 L1484.2,373.6 L1488.3,374.8 L1492.4,377.1 L1495.9,376.0 L1500.0,381.8 L1504.1,387.0 L1508.1,388.8 L1512.2,387.6 L1516.9,384.1 L1520.4,380.6 L1523.9,374.8 L1527.4,369.5 L1531.5,366.6 L1535.5,369.5 L1539.6,371.3 L1543.7,382.9 L1547.2,388.2 L1551.1,389.9 L1555.2,393.4 L1559.2,393.4 L1563.3,393.4 L1567.4,391.1 L1571.5,388.8 L1575.0,385.3 L1578.5,378.9 L1582.6,380.0 L1586.6,381.8 L1590.1,382.9 L1594.2,385.9 L1598.3,390.5 L1603.0,391.1 L1606.5,392.3 L1610.0,391.1 L1614.6,391.1 L1618.1,382.9 L1621.6,378.3 L1625.7,379.4 L1629.8,376.5 L1633.9,374.8 L1637.4,381.8 L1641.4,385.9 L1644.9,388.8 L1649.6,392.9 L1653.7,394.0 L1657.8,394.6 L1662.4,394.0 L1667.1,391.1 L1671.8,387.6 L1677.0,382.4 L1681.1,383.5 L1685.8,384.7 L1691.6,387.6 L1696.8,390.5 L1700.9,392.3 L1705.0,392.3 L1708.5,391.1 L1712.6,389.4 L1716.1,385.3 L1720.2,382.9 L1724.2,378.3 L1728.3,380.6 L1732.4,380.6 L1735.9,384.1 L1740.0,388.8 L1744.1,391.1 L1748.1,394.0 L1752.2,394.6 L1756.9,394.6 L1761.5,393.4 L1766.2,389.9 L1770.9,386.4 L1775.0,385.3 L1779.0,385.0 L1783.1,385.0 L1787.2,386.4 L1791.7,388.2 L1795.7,391.1 L1799.2,389.9 L1803.3,386.4 L1807.4,387.0 L1811.5,384.7 L1817.3,381.8 L1822.0,374.8 L1826.6,371.9 L1830.1,380.6 L1834.2,381.8 L1838.3,388.8 L1843.0,391.1 L1847.6,393.4 L1851.1,392.9 L1854.6,390.5 L1858.1,391.1 L1861.6,386.4 L1865.7,386.4 L1869.8,378.9 L1873.9,383.5 L1877.9,381.8 L1881.4,384.1 L1884.9,386.4 L1889.6,388.2 L1894.3,390.5 L1901.3,391.1 L1907.1,387.6 L1912.9,384.7 L1917.6,383.5 L1922.3,382.4 L1926.9,382.9 L1931.6,385.3 L1936.2,387.0 L1940.9,389.4 L1944.4,391.7 L1948.5,391.7 L1952.6,390.5 L1957.2,389.9 L1964.2,389.4 L1967.7,388.2 L1972.4,385.9 L1978.2,388.2 L1984.1,389.9 L1989.9,391.1 L1995.7,392.3 L2000.4,392.3 L2005.0,391.1 L2008.5,389.9 L2012.0,388.2 L2015.5,387.0 L2019.0,387.6 L2023.7,385.9 L2027.2,386.4 L2031.1,387.6 L2035.2,390.5 L2039.2,391.1 L2043.3,391.7 L2047.4,391.7 L2051.5,389.9 L2055.0,387.6 L2059.1,384.7 L2062.6,382.9 L2066.6,380.6 L2070.7,378.9 L2074.8,380.6 L2078.3,378.3 L2081.8,381.2 L2085.3,385.3 L2090.0,387.6 L2094.6,388.8 L2098.1,385.9 L2102.2,388.2 L2106.3,388.2 L2109.8,386.4 L2113.9,384.1 L2117.9,381.2 L2122.0,383.5 L2126.1,384.1 L2130.2,385.3 L2134.3,388.2 L2137.8,388.8 L2142.4,389.4 L2148.8,389.4 L2152.9,384.7 L2157.0,382.4 L2161.1,381.8 L2165.2,381.2 L2169.3,380.6 L2172.8,380.0 L2176.8,381.2 L2180.9,383.5 L2184.4,385.9 L2188.5,384.7 L2192.6,387.0 L2196.7,389.9 L2200.2,389.9 L2204.2,385.9 L2207.7,388.2 L2212.4,386.4 L2216.5,384.7 L2220.0,386.4 L2224.1,381.8 L2228.1,385.3 L2231.6,387.0 L2235.7,388.8 L2239.8,388.2 L2243.9,384.7 L2247.4,388.2 L2251.5,385.3 L2255.5,384.7 L2259.0,378.3 L2263.1,381.2 L2267.2,381.2 L2268.7,381.2 L2273.3,381.8 L2277.4,384.1 L2281.5,387.0 L2286.1,389.4 L2290.2,390.5 L2294.3,389.9 L2299.0,390.5 L2303.1,389.4 L2307.1,388.2 L2310.6,387.0 L2314.7,385.3 L2318.8,384.7 L2322.9,385.3 L2326.4,381.2 L2330.5,387.0 L2334.5,385.9 L2338.6,385.3 L2342.7,386.4 L2346.8,387.6 L2350.3,386.4 L2354.9,381.2 L2358.4,377.7 L2362.5,380.6 L2366.6,380.0 L2371.3,380.0 L2374.8,379.4 L2378.3,378.3 L2381.8,382.4 L2385.8,388.2 L2389.3,390.5 L2394.0,388.8 L2397.5,389.4 L2401.6,391.7 L2405.1,389.4 L2409.2,386.4 L2413.2,381.2 L2417.3,384.7 L2420.8,379.4 L2424.9,383.5 L2429.6,386.4 L2434.2,388.2 L2438.9,388.2 L2444.1,387.6 L2448.2,384.7 L2452.3,384.1 L2456.4,381.8 L2460.5,375.4 L2464.3,378.3" stroke="#0000bf"/>
</g>
<g stroke="#000" stroke-width="5" fill="none" clip-path="url(#ca)">
<line x1="102.35" y1="189.04" x2="2464.10" y2="189.04" stroke-dasharray="40.7 23.783"/>
<line x1="102.35" y1="245.47" x2="2464.10" y2="245.47" stroke-dasharray="32.4 12 8.083 12"/>
<line x1="102.45" y1="359.22" x2="2464.10" y2="359.22" stroke-dasharray="4.0 12.1208" stroke-width="4.8"/>
</g>
<rect x="1673.80" y="118.10" width="238.90" height="201.70" fill="#fff" stroke="#262626" stroke-width="1.75"/>
<g stroke="#000" stroke-width="5" fill="none">
<line x1="1690.10" y1="156.60" x2="1807.70" y2="156.60" stroke-dasharray="40.7 23.783"/>
<line x1="1690.10" y1="219.10" x2="1807.70" y2="219.10" stroke-dasharray="32.4 12 8.083 12"/>
<line x1="1690.10" y1="281.30" x2="1807.70" y2="281.30" stroke-dasharray="4.0 12.1208" stroke-width="4.8"/>
</g>
<text class="th k" x="1824.80" y="166.90" font-size="35">θ</text>
<text class="k" x="1843.80 1860.20" y="183.40" font-size="29.6">sf</text>
<text class="th k" x="1824.80" y="229.40" font-size="35">θ</text>
<text class="k" x="1843.80 1868.00" y="245.90" font-size="29.6">wo</text>
<text class="th k" x="1824.80" y="291.60" font-size="35">θ</text>
<text class="k" x="1843.80 1864.40 1876.20 1884.20" y="308.10" font-size="29.6">crit</text>
<g stroke="#202020" stroke-width="2.0" fill="none">
<line x1="575.02" y1="908.10" x2="575.02" y2="883.60"/>
<line x1="575.02" y1="569.90" x2="575.02" y2="594.40"/>
<line x1="1047.29" y1="908.10" x2="1047.29" y2="883.60"/>
<line x1="1047.29" y1="569.90" x2="1047.29" y2="594.40"/>
<line x1="1519.56" y1="908.10" x2="1519.56" y2="883.60"/>
<line x1="1519.56" y1="569.90" x2="1519.56" y2="594.40"/>
<line x1="1991.83" y1="908.10" x2="1991.83" y2="883.60"/>
<line x1="1991.83" y1="569.90" x2="1991.83" y2="594.40"/>
<line x1="102.75" y1="795.37" x2="127.25" y2="795.37"/>
<line x1="2464.10" y1="795.37" x2="2439.60" y2="795.37"/>
<line x1="102.75" y1="682.63" x2="127.25" y2="682.63"/>
<line x1="2464.10" y1="682.63" x2="2439.60" y2="682.63"/>
</g>
<rect x="102.75" y="569.90" width="2361.35" height="338.20" fill="none" stroke="#262626" stroke-width="1.75"/>
<g fill="none" stroke-width="3.9" stroke-linejoin="round" stroke-linecap="round" clip-path="url(#cb)">
<path d="M102.7,901.0 L106.7,902.3 L110.8,904.3 L115.5,905.6 L121.3,906.3 L127.2,906.9 L131.8,905.6 L134.1,900.3 L138.2,900.3 L142.3,904.3 L145.8,893.8 L149.9,898.4 L154.0,905.6 L158.6,907.5 L168.0,908.1 L179.6,907.5 L185.5,908.7 L194.8,908.7 L207.6,908.1 L219.3,908.7 L226.3,908.1 L232.1,903.6 L236.2,898.4 L240.3,901.0 L244.3,898.4 L248.4,901.0 L253.1,900.3 L258.9,903.6 L265.9,900.3 L270.6,901.0 L275.2,901.0 L278.7,897.3 L284.0,892.6 L289.2,899.7 L293.9,899.7 L299.7,903.6 L306.7,903.0 L311.4,905.6 L317.2,904.3 L321.9,902.3 L326.5,889.1 L330.6,882.1 L334.7,879.8 L338.8,876.9 L342.9,883.3 L347.0,892.6 L351.0,898.4 L355.7,903.0 L361.5,905.6 L368.5,906.3 L373.2,905.0 L377.9,899.7 L383.7,897.9 L385.0,898.4 L389.7,899.0 L394.3,897.3 L399.0,902.3 L403.7,904.3 L408.9,904.3 L414.1,903.6 L417.6,906.3 L422.3,902.3 L425.8,896.1 L429.3,891.4 L433.4,892.6 L437.5,886.2 L441.5,896.1 L445.6,902.3 L450.3,907.5 L457.3,908.7 L464.3,908.7 L471.3,907.5 L479.4,904.3 L484.1,905.6 L488.2,906.3 L494.6,908.1 L501.6,908.7 L507.4,907.5 L512.1,905.0 L516.2,901.0 L520.3,897.9 L524.9,896.1 L530.8,896.1 L535.4,897.3 L540.1,899.7 L543.6,905.0 L547.1,908.1 L551.7,908.7 L558.7,908.1 L563.4,902.3 L566.9,894.9 L570.0,889.1 L574.7,881.0 L579.3,876.3 L582.8,850.6 L586.9,833.1 L591.0,834.9 L595.1,828.5 L598.6,844.8 L602.6,836.6 L606.1,853.0 L609.6,868.1 L613.1,825.0 L616.6,801.7 L619.0,790.0 L621.3,778.3 L626.0,770.1 L630.6,778.3 L632.4,786.5 L634.1,801.7 L638.2,802.2 L641.1,816.8 L645.8,822.6 L649.9,850.1 L654.0,829.1 L657.5,854.7 L662.1,846.0 L665.6,841.3 L669.7,830.8 L673.2,842.5 L677.3,820.3 L681.4,857.6 L685.4,846.0 L688.9,856.5 L693.0,844.8 L697.7,863.5 L701.8,866.4 L705.3,876.9 L708.8,876.9 L712.8,878.0 L716.9,869.3 L721.0,872.2 L725.1,871.0 L729.2,878.6 L732.7,874.0 L736.7,886.8 L740.2,890.3 L744.9,892.6 L748.4,895.5 L751.9,894.4 L755.4,897.3 L759.5,899.0 L763.6,897.3 L767.6,900.3 L771.7,897.3 L775.8,897.3 L779.9,893.8 L784.0,893.8 L788.1,896.7 L792.7,897.9 L797.4,899.0 L803.2,901.7 L807.9,899.7 L812.5,897.9 L816.0,895.5 L819.5,891.4 L823.6,887.9 L827.7,882.1 L832.4,881.0 L835.9,882.1 L840.5,889.7 L844.0,892.6 L847.5,885.6 L851.0,886.8 L855.7,883.9 L858.2,883.3 L862.2,879.8 L866.3,856.5 L870.4,862.3 L874.5,858.2 L878.6,853.0 L882.1,835.5 L886.1,829.1 L890.2,860.0 L894.3,834.3 L897.8,849.5 L901.9,857.0 L906.0,872.2 L910.1,853.5 L914.1,853.5 L918.2,852.4 L921.7,869.9 L925.8,859.4 L929.9,875.1 L933.4,866.4 L937.5,876.3 L941.5,864.0 L945.0,889.1 L949.1,881.0 L953.2,887.4 L957.3,886.2 L961.4,886.8 L965.4,890.3 L968.9,879.2 L972.4,871.0 L976.5,869.9 L981.2,868.1 L984.7,876.9 L988.2,847.7 L992.3,855.3 L996.3,880.4 L1000.4,881.5 L1004.5,883.3 L1008.6,887.4 L1012.7,885.6 L1016.7,884.4 L1020.2,879.2 L1023.7,877.5 L1027.8,875.7 L1031.9,878.6 L1036.0,881.5 L1040.1,890.3 L1043.6,891.4 L1047.6,887.9 L1051.7,896.1 L1055.2,894.4 L1059.3,890.3 L1063.4,893.8 L1067.5,892.0 L1071.5,888.5 L1075.0,886.8 L1078.5,880.4 L1082.6,874.5 L1086.7,876.3 L1090.8,889.1 L1094.9,890.9 L1099.0,892.0 L1103.0,892.6 L1107.1,890.3 L1111.2,884.4 L1115.3,876.3 L1118.2,870.5 L1122.3,844.2 L1126.4,851.8 L1130.4,869.3 L1134.5,848.3 L1137.6,852.4 L1141.1,864.6 L1145.2,863.5 L1148.7,864.6 L1152.7,891.4 L1156.8,889.1 L1160.9,887.9 L1165.0,871.6 L1169.1,860.0 L1173.1,862.9 L1177.2,872.8 L1181.3,871.6 L1184.8,886.8 L1188.3,891.4 L1192.4,891.4 L1196.5,896.1 L1200.5,903.0 L1204.6,899.7 L1208.7,894.9 L1212.8,894.9 L1216.3,892.6 L1220.4,886.2 L1224.4,886.8 L1228.5,892.6 L1232.6,887.9 L1236.1,898.4 L1240.2,902.3 L1244.3,900.3 L1248.4,901.7 L1252.4,899.7 L1256.5,899.0 L1260.6,893.8 L1264.7,890.3 L1268.8,887.9 L1272.3,886.8 L1275.8,886.8 L1279.8,893.8 L1283.9,899.0 L1287.4,902.3 L1291.5,901.0 L1295.6,902.3 L1299.1,904.3 L1303.2,905.0 L1307.2,902.3 L1311.3,899.0 L1315.4,896.7 L1319.5,897.3 L1323.6,902.3 L1328.2,904.3 L1332.9,905.6 L1337.6,906.3 L1343.4,906.9 L1349.2,906.3 L1353.9,904.3 L1357.4,898.4 L1361.5,891.4 L1365.5,876.3 L1369.6,879.8 L1373.1,882.1 L1377.2,891.4 L1381.3,887.9 L1385.4,894.9 L1389.4,901.0 L1393.5,897.9 L1398.2,896.7 L1402.3,894.4 L1406.4,889.1 L1409.9,874.0 L1413.3,869.3 L1417.5,857.6 L1421.0,870.5 L1425.1,863.5 L1429.2,858.8 L1433.2,846.0 L1436.7,835.5 L1440.8,834.9 L1444.9,830.8 L1449.0,834.3 L1453.1,853.5 L1454.8,825.0 L1456.6,779.3 L1460.6,743.1 L1464.7,754.8 L1468.8,758.9 L1472.3,782.8 L1476.4,774.0 L1480.5,801.4 L1483.4,811.6 L1487.5,816.8 L1492.1,822.1 L1495.6,845.4 L1499.7,805.2 L1503.8,813.3 L1507.3,817.4 L1511.4,827.3 L1515.4,833.1 L1519.5,813.3 L1523.6,850.6 L1527.7,839.0 L1531.8,819.7 L1534.1,865.8 L1538.8,884.4 L1542.8,880.4 L1546.9,881.0 L1551.0,871.6 L1555.1,841.3 L1558.6,855.9 L1562.7,846.0 L1566.7,855.9 L1570.8,862.3 L1574.9,876.3 L1578.4,886.8 L1581.9,886.8 L1585.4,893.8 L1589.5,901.0 L1593.6,901.7 L1597.6,897.3 L1601.7,894.9 L1606.4,893.8 L1609.9,896.1 L1614.6,902.3 L1618.6,906.3 L1622.7,907.5 L1627.4,905.6 L1632.0,904.3 L1636.7,904.3 L1642.0,902.3 L1646.0,901.7 L1649.5,896.1 L1653.6,889.7 L1657.7,886.8 L1661.8,890.9 L1665.9,893.2 L1670.5,901.0 L1675.2,906.3 L1679.9,907.5 L1685.7,908.1 L1687.0,906.3 L1696.3,907.5 L1703.3,906.3 L1709.2,908.1 L1717.3,907.5 L1723.1,905.0 L1727.8,903.6 L1731.9,900.3 L1736.0,902.3 L1740.1,901.0 L1744.1,902.3 L1748.2,901.7 L1752.3,906.3 L1755.8,908.1 L1761.6,907.5 L1768.6,908.1 L1779.1,908.7 L1787.3,908.1 L1794.3,906.3 L1798.9,903.0 L1802.4,899.0 L1806.5,893.8 L1810.6,901.0 L1814.7,900.3 L1818.8,903.6 L1823.4,905.6 L1828.1,907.5 L1833.9,906.9 L1840.9,905.6 L1845.6,904.3 L1849.7,903.0 L1853.7,904.3 L1858.4,906.3 L1863.1,907.5 L1868.9,908.7 L1878.2,908.7 L1889.9,908.7 L1896.9,907.5 L1901.5,905.6 L1905.0,903.6 L1909.1,902.3 L1913.2,903.6 L1917.9,905.0 L1922.5,905.6 L1927.2,906.9 L1934.2,908.1 L1943.5,908.7 L1948.2,909.3 L1957.5,908.7 L1965.7,908.1 L1968.2,908.1 L1983.3,908.1 L1995.0,908.1 L2006.6,907.5 L2014.8,906.9 L2020.6,906.3 L2025.3,904.3 L2030.0,902.3 L2034.6,901.0 L2039.3,897.3 L2043.4,894.9 L2046.9,893.8 L2051.0,897.3 L2055.0,894.4 L2059.1,896.1 L2063.2,901.0 L2067.3,902.3 L2071.9,904.3 L2077.8,905.6 L2084.8,905.6 L2091.8,906.3 L2098.8,905.6 L2105.8,905.0 L2111.6,903.6 L2117.4,904.3 L2123.2,905.0 L2129.1,903.6 L2134.9,902.3 L2141.3,899.7 L2146.6,901.7 L2152.4,904.3 L2158.2,905.6 L2165.2,906.3 L2172.2,906.9 L2179.2,906.3 L2186.2,906.9 L2193.2,907.5 L2200.2,906.3 L2207.2,905.6 L2214.2,905.0 L2221.2,904.3 L2228.2,903.0 L2235.2,901.7 L2241.0,902.3 L2245.7,904.3 L2248.5,899.7 L2254.3,901.0 L2259.0,901.0 L2263.6,903.0 L2268.3,904.3 L2273.0,905.6 L2277.6,904.3 L2282.3,903.6 L2287.0,903.0 L2291.6,902.3 L2296.3,901.0 L2299.8,897.9 L2303.3,895.5 L2306.8,897.9 L2310.3,901.0 L2314.9,902.3 L2320.8,903.0 L2326.6,902.3 L2330.1,900.3 L2334.2,897.9 L2338.3,896.1 L2342.9,897.9 L2347.6,899.7 L2352.3,902.3 L2356.9,904.3 L2361.6,903.6 L2365.7,899.7 L2369.7,894.9 L2373.2,899.0 L2377.9,903.0 L2382.6,904.3 L2387.2,902.3 L2391.9,903.0 L2396.6,903.6 L2401.2,902.3 L2405.9,900.3 L2409.4,899.7 L2414.1,903.0 L2418.7,904.3 L2423.4,903.6 L2428.1,902.3 L2432.7,900.3 L2437.4,903.0 L2442.0,904.3 L2447.9,905.0 L2453.7,905.6 L2459.5,905.6 L2464.2,906.3" stroke="#bf0000"/>
<path d="M102.7,897.9 L106.7,903.6 L110.8,906.3 L115.5,907.5 L121.3,907.5 L126.6,908.1 L130.6,902.3 L134.1,886.2 L138.2,884.4 L142.3,868.1 L145.8,878.6 L149.9,886.8 L153.4,894.9 L157.5,905.6 L162.1,908.1 L168.0,908.7 L175.0,909.3 L180.8,908.7 L185.5,905.6 L190.1,907.5 L197.1,908.7 L207.6,907.5 L212.9,903.0 L218.1,904.3 L222.8,907.5 L227.4,906.3 L232.7,892.6 L236.2,897.3 L239.1,890.3 L242.6,898.4 L246.1,882.1 L249.6,891.4 L253.1,899.7 L256.6,906.3 L260.7,908.7 L265.9,904.3 L270.6,901.7 L275.2,898.4 L278.7,890.3 L284.0,883.9 L289.2,886.8 L293.9,892.6 L298.6,899.7 L303.8,899.7 L306.7,907.5 L311.4,907.5 L316.1,905.0 L319.5,897.3 L323.0,882.1 L326.5,870.5 L330.6,837.8 L334.7,841.9 L338.8,836.6 L342.9,853.0 L347.0,870.5 L351.0,893.8 L354.5,897.3 L358.6,905.6 L363.9,907.5 L368.5,906.9 L373.2,894.9 L377.9,891.4 L381.9,882.1 L385.0,889.1 L389.7,899.7 L394.3,899.0 L399.0,903.6 L403.7,906.3 L408.9,907.5 L413.0,905.6 L417.6,901.0 L421.7,891.4 L425.8,881.0 L429.3,872.2 L433.4,872.2 L437.5,875.7 L441.5,886.8 L445.6,894.9 L450.3,905.6 L455.0,908.7 L462.0,908.1 L469.0,905.6 L474.8,902.3 L479.4,901.0 L484.1,903.0 L488.2,903.6 L492.3,906.3 L495.8,905.0 L499.9,903.6 L503.9,907.5 L507.4,905.6 L512.1,903.6 L516.2,894.9 L520.3,891.4 L523.8,884.4 L527.8,878.6 L531.9,880.4 L535.4,892.6 L540.1,893.8 L543.6,901.0 L547.1,907.5 L551.7,908.7 L558.7,906.3 L563.4,894.9 L566.9,881.0 L570.0,862.3 L573.5,849.5 L577.6,842.5 L581.1,799.3 L582.8,791.7 L587.5,790.0 L591.0,772.5 L595.1,765.5 L598.6,779.5 L602.6,772.5 L606.7,781.8 L610.8,793.5 L613.1,755.0 L614.9,726.8 L618.4,647.5 L622.5,679.0 L626.6,646.3 L633.5,690.6 L638.8,705.8 L640.5,726.8 L642.3,753.2 L645.8,738.7 L649.9,799.3 L653.4,771.3 L657.5,803.4 L662.1,793.5 L665.6,753.8 L670.3,757.3 L673.8,780.6 L677.3,745.1 L681.4,808.0 L684.9,787.6 L688.9,808.6 L693.0,798.7 L697.1,821.4 L701.2,824.4 L704.7,844.2 L708.8,834.9 L712.8,834.3 L716.3,814.5 L721.0,810.4 L725.1,813.3 L728.6,834.9 L732.7,829.1 L736.2,853.5 L739.7,864.0 L743.7,870.5 L747.8,883.3 L751.3,882.7 L755.4,886.8 L759.5,890.9 L763.6,885.6 L767.6,889.7 L771.7,883.3 L775.8,884.4 L779.9,876.3 L784.0,872.8 L788.1,875.7 L792.7,878.0 L798.5,884.4 L803.2,876.3 L807.3,875.7 L811.4,870.5 L815.5,872.8 L819.5,855.3 L823.0,844.8 L827.1,848.3 L831.2,843.6 L835.3,840.7 L839.4,856.5 L842.9,868.7 L846.9,858.8 L851.0,857.6 L855.1,856.5 L858.2,848.3 L861.1,836.6 L862.2,821.5 L863.4,799.1 L865.7,782.8 L870.4,772.9 L873.9,788.0 L878.0,761.8 L882.1,721.0 L886.7,728.6 L889.6,808.4 L893.7,771.1 L897.8,784.0 L901.9,804.9 L906.0,823.2 L910.1,796.8 L913.5,777.0 L917.6,792.1 L921.1,815.4 L925.2,797.4 L929.3,822.6 L933.4,821.5 L937.5,841.3 L941.0,831.4 L945.0,864.6 L949.1,860.0 L953.2,869.3 L957.3,863.5 L961.4,850.6 L964.9,853.5 L968.9,818.0 L972.4,800.3 L976.5,803.8 L980.0,788.6 L984.1,822.6 L988.2,810.4 L992.3,801.1 L996.3,841.3 L1000.4,849.5 L1003.9,854.7 L1007.4,856.5 L1012.1,853.5 L1016.2,850.6 L1020.2,836.6 L1023.7,831.4 L1027.8,844.2 L1031.9,848.3 L1036.0,856.5 L1040.1,871.6 L1043.6,875.7 L1047.6,876.9 L1051.7,889.1 L1055.2,882.1 L1059.3,866.4 L1063.4,866.4 L1067.5,851.8 L1071.5,836.6 L1075.0,820.9 L1079.1,828.5 L1083.2,837.8 L1087.3,841.3 L1090.8,860.0 L1094.9,871.6 L1099.0,878.6 L1102.4,885.0 L1106.5,876.3 L1110.6,863.5 L1114.1,837.8 L1118.2,816.8 L1121.7,782.8 L1129.9,837.8 L1134.5,807.5 L1137.6,802.8 L1141.1,846.0 L1145.2,850.6 L1149.8,852.4 L1153.9,871.6 L1158.0,860.0 L1162.1,836.6 L1166.1,814.5 L1169.6,796.4 L1173.7,805.2 L1177.2,828.5 L1181.3,828.5 L1184.8,860.0 L1188.3,879.8 L1192.4,884.4 L1196.5,889.7 L1200.0,894.9 L1204.0,892.6 L1208.1,883.3 L1212.2,876.3 L1216.3,872.2 L1220.4,867.5 L1224.4,877.5 L1229.1,881.0 L1233.2,882.1 L1236.7,897.3 L1240.8,903.6 L1244.9,902.3 L1248.9,899.7 L1251.9,895.5 L1255.3,895.5 L1258.8,874.0 L1262.9,861.1 L1267.6,856.5 L1271.7,861.7 L1275.8,868.1 L1279.8,885.6 L1283.9,891.4 L1287.4,900.3 L1292.1,900.3 L1296.7,901.0 L1300.2,901.7 L1303.7,894.9 L1307.2,889.1 L1311.3,887.9 L1315.4,882.7 L1319.5,886.8 L1323.6,896.1 L1327.1,903.6 L1331.7,907.5 L1335.2,908.7 L1339.9,906.3 L1344.6,904.3 L1349.2,903.0 L1353.3,896.1 L1356.8,876.3 L1360.9,851.8 L1366.1,830.8 L1370.2,836.6 L1374.3,850.6 L1378.4,874.0 L1382.4,881.0 L1386.5,884.4 L1390.0,894.9 L1393.5,887.4 L1397.0,893.8 L1400.5,889.7 L1404.0,877.5 L1407.5,860.0 L1411.0,846.0 L1412.8,839.0 L1417.5,826.1 L1421.0,835.5 L1425.1,841.3 L1429.2,849.5 L1433.2,828.5 L1436.7,811.6 L1440.8,824.4 L1444.3,802.6 L1448.4,756.0 L1452.5,766.5 L1456.6,661.3 L1460.6,628.1 L1464.7,647.3 L1468.8,651.4 L1472.3,701.0 L1476.4,718.4 L1479.3,760.6 L1483.4,786.3 L1488.6,796.8 L1495.6,803.8 L1499.1,754.8 L1503.2,737.3 L1507.9,736.7 L1511.9,744.3 L1515.4,765.9 L1519.5,764.1 L1523.6,802.6 L1527.7,813.3 L1531.2,825.0 L1534.7,850.6 L1537.0,865.8 L1539.3,870.5 L1542.8,850.6 L1546.9,834.3 L1551.0,793.3 L1555.1,760.6 L1559.2,778.7 L1563.2,767.0 L1566.7,787.5 L1570.2,800.3 L1573.7,830.8 L1576.1,853.0 L1579.6,869.3 L1583.1,877.5 L1586.6,886.8 L1591.2,892.6 L1595.9,883.3 L1600.0,869.3 L1603.5,865.2 L1606.4,864.0 L1609.9,877.5 L1614.6,889.1 L1619.2,901.0 L1623.9,908.7 L1628.5,909.8 L1633.2,908.7 L1639.0,908.1 L1642.5,906.3 L1646.0,893.8 L1649.5,877.5 L1653.6,868.1 L1657.7,860.5 L1661.8,875.1 L1665.9,873.4 L1669.9,890.3 L1674.0,897.3 L1677.5,905.6 L1682.2,909.3 L1687.0,907.5 L1691.7,906.9 L1696.3,903.6 L1700.4,900.3 L1704.5,901.0 L1708.6,902.3 L1712.6,906.3 L1717.3,908.1 L1723.1,905.6 L1727.8,903.6 L1732.5,904.3 L1738.3,903.6 L1743.0,905.0 L1747.6,907.5 L1752.3,904.3 L1755.8,903.6 L1759.9,903.0 L1764.0,904.3 L1768.6,906.9 L1773.3,906.3 L1777.9,903.6 L1782.6,904.3 L1787.3,906.9 L1791.9,908.1 L1796.6,908.7 L1802.4,906.9 L1808.3,906.3 L1814.1,906.9 L1819.9,905.6 L1825.8,903.6 L1830.4,905.6 L1835.1,907.5 L1839.7,905.6 L1843.2,900.3 L1846.7,897.3 L1850.2,894.9 L1853.7,890.9 L1857.2,898.4 L1860.7,904.3 L1865.4,908.1 L1871.2,909.3 L1878.2,909.3 L1887.6,908.7 L1895.7,908.1 L1901.5,906.9 L1907.4,905.0 L1913.2,904.3 L1919.0,905.0 L1924.9,906.3 L1930.7,908.7 L1938.9,909.3 L1947.0,906.3 L1951.7,904.3 L1957.5,906.3 L1962.2,908.7 L1966.8,906.9 L1968.2,906.3 L1975.2,905.6 L1983.3,906.9 L1991.5,908.1 L1999.6,907.5 L2009.0,908.1 L2018.3,908.7 L2024.1,906.9 L2027.6,902.3 L2031.1,892.6 L2035.8,886.8 L2040.5,882.1 L2046.3,881.0 L2051.0,886.8 L2055.0,878.0 L2059.1,887.9 L2063.2,897.3 L2067.3,900.3 L2070.8,907.5 L2075.4,909.3 L2082.4,908.7 L2089.4,908.1 L2094.1,906.3 L2098.2,903.0 L2101.7,899.7 L2105.8,904.3 L2110.4,907.5 L2116.2,908.7 L2122.1,907.5 L2125.6,897.3 L2129.7,901.0 L2133.7,898.4 L2137.2,894.9 L2141.3,890.9 L2145.4,892.6 L2149.5,896.7 L2153.6,899.7 L2158.2,906.3 L2162.9,908.7 L2168.7,908.1 L2174.6,907.5 L2180.4,908.1 L2186.2,907.5 L2192.0,905.6 L2196.7,908.1 L2201.4,904.3 L2206.0,901.7 L2210.7,906.3 L2216.5,908.1 L2223.5,907.5 L2230.5,906.3 L2236.4,906.9 L2239.9,902.3 L2243.3,894.9 L2246.8,899.7 L2248.5,902.3 L2252.0,901.7 L2256.1,899.7 L2260.1,908.1 L2264.8,909.3 L2270.6,908.7 L2275.3,906.3 L2278.8,903.6 L2282.3,906.9 L2285.8,905.6 L2290.5,900.3 L2295.1,896.7 L2299.2,891.4 L2303.3,887.4 L2307.4,891.4 L2311.4,897.9 L2314.9,901.0 L2319.0,902.3 L2322.5,896.1 L2326.6,903.0 L2330.1,899.7 L2334.2,894.4 L2338.3,889.7 L2342.3,892.6 L2346.4,894.4 L2351.1,896.7 L2355.8,902.3 L2360.4,908.7 L2366.2,909.3 L2373.2,904.3 L2377.9,908.1 L2382.6,907.5 L2386.1,902.3 L2389.6,894.9 L2393.1,896.1 L2397.2,895.5 L2401.2,899.0 L2405.9,900.3 L2410.6,902.3 L2415.2,905.6 L2419.9,906.9 L2425.7,908.1 L2431.5,908.7 L2437.4,907.5 L2443.2,906.9 L2449.0,905.6 L2454.9,906.3 L2459.5,903.6 L2464.2,905.6" stroke="#00bc00"/>
<path d="M102.7,905.6 L109.7,906.3 L114.3,904.3 L118.4,898.4 L122.5,900.3 L127.2,903.6 L130.6,906.3 L134.7,905.6 L138.2,896.7 L142.3,899.7 L145.8,881.5 L149.9,898.4 L154.0,904.3 L158.1,901.0 L162.1,906.3 L168.0,907.5 L173.8,906.3 L180.8,907.5 L185.5,899.7 L190.1,903.0 L194.8,905.6 L200.6,904.3 L206.4,906.9 L211.1,907.5 L216.9,905.6 L221.6,906.9 L226.3,908.7 L229.2,902.3 L232.7,860.0 L236.2,894.4 L239.7,897.3 L244.3,862.9 L248.4,890.3 L251.9,903.6 L255.4,903.6 L259.5,905.6 L263.6,901.7 L268.2,901.7 L272.9,903.0 L277.6,901.7 L282.8,896.1 L286.9,903.0 L291.0,900.3 L295.1,904.3 L299.7,905.6 L305.6,907.5 L311.4,908.1 L317.2,904.3 L322.5,903.6 L326.5,897.3 L330.6,905.6 L334.7,889.7 L338.8,892.6 L342.9,896.1 L347.0,901.0 L351.0,903.0 L355.7,905.0 L362.7,901.7 L367.4,902.3 L372.0,905.6 L379.0,897.9 L383.7,897.9 L385.0,897.9 L389.7,902.3 L394.3,905.0 L399.0,906.3 L403.7,902.3 L408.9,901.0 L413.0,905.6 L417.6,906.3 L422.3,894.9 L425.8,889.7 L429.3,890.3 L433.4,881.0 L437.5,874.5 L442.1,877.5 L445.6,886.8 L450.3,897.3 L453.8,905.0 L458.5,908.1 L464.3,907.5 L470.1,905.6 L476.5,902.3 L480.6,893.2 L484.1,897.9 L488.2,898.4 L492.3,903.6 L496.9,906.3 L502.8,906.9 L507.4,899.7 L512.1,876.3 L516.2,867.0 L519.7,880.4 L523.8,883.3 L529.6,883.9 L535.4,882.1 L540.1,886.8 L543.6,898.4 L547.1,905.6 L551.7,906.3 L557.6,905.6 L563.4,902.3 L566.9,892.6 L570.0,889.1 L573.5,879.8 L578.2,870.5 L582.8,854.1 L586.9,862.3 L591.0,870.5 L595.1,873.4 L599.2,877.5 L602.6,883.3 L607.3,882.7 L610.8,872.8 L613.7,836.6 L617.8,811.6 L622.5,802.2 L626.6,809.2 L630.6,820.3 L634.1,856.5 L638.2,857.6 L642.3,874.0 L646.4,885.6 L649.9,891.4 L653.4,885.6 L657.5,881.0 L661.5,887.9 L665.6,885.0 L669.7,885.6 L673.8,879.8 L677.3,876.9 L681.4,882.1 L685.4,869.3 L688.9,862.9 L693.0,869.3 L697.1,889.1 L701.2,894.4 L704.7,885.6 L708.8,886.8 L712.8,888.5 L716.9,886.2 L721.0,886.2 L725.1,883.9 L729.7,885.0 L733.2,886.8 L736.7,890.9 L740.8,893.8 L744.9,895.5 L748.4,901.0 L753.1,903.6 L758.9,904.3 L764.1,904.3 L770.6,902.3 L775.8,901.0 L779.9,903.0 L783.4,893.8 L786.9,890.3 L791.0,892.6 L795.0,893.8 L799.1,892.0 L803.2,890.3 L807.3,892.6 L811.4,895.5 L815.5,891.4 L819.5,886.8 L823.6,882.1 L827.1,876.9 L831.2,884.4 L834.7,874.5 L838.8,876.3 L842.9,894.4 L846.9,892.0 L851.0,899.7 L855.7,899.7 L858.2,899.0 L862.2,890.9 L866.3,883.3 L870.4,878.6 L874.5,889.1 L878.6,876.9 L882.1,875.1 L886.1,870.5 L890.2,886.8 L894.3,885.0 L897.8,892.6 L901.9,894.9 L906.0,893.8 L910.1,893.2 L914.1,889.7 L918.2,887.4 L922.3,883.9 L926.4,885.0 L930.5,889.1 L934.0,896.1 L937.5,899.0 L941.5,896.7 L945.6,899.0 L949.7,901.7 L953.8,902.3 L958.4,900.3 L961.9,897.3 L966.6,892.0 L971.3,888.5 L975.9,886.8 L980.6,885.0 L984.7,887.9 L988.8,892.6 L992.8,896.1 L996.9,898.4 L1001.0,898.4 L1005.1,896.1 L1010.9,893.2 L1015.6,891.4 L1019.7,890.3 L1023.7,893.8 L1027.8,892.6 L1031.9,895.5 L1036.0,898.4 L1039.5,902.3 L1043.6,901.0 L1047.6,903.6 L1051.7,903.6 L1055.8,899.7 L1059.9,893.2 L1063.4,894.9 L1067.5,899.7 L1071.5,894.9 L1075.0,892.6 L1078.5,898.4 L1082.6,900.3 L1086.7,896.1 L1090.8,897.3 L1094.9,897.9 L1099.0,899.0 L1103.0,899.7 L1107.1,895.5 L1111.2,890.9 L1115.3,887.4 L1119.4,886.2 L1122.9,881.0 L1126.9,883.9 L1131.0,887.4 L1135.7,885.0 L1137.6,889.1 L1141.7,894.9 L1145.7,897.9 L1149.8,894.9 L1153.3,896.7 L1157.4,894.4 L1160.9,877.5 L1165.0,876.3 L1169.1,867.5 L1173.1,867.0 L1177.2,872.8 L1181.3,862.9 L1184.8,883.3 L1188.3,890.9 L1192.4,893.2 L1196.5,896.7 L1200.0,897.9 L1204.6,895.5 L1208.7,896.1 L1212.8,891.4 L1216.3,884.4 L1220.4,886.8 L1224.4,897.9 L1228.5,899.0 L1232.6,903.6 L1236.7,906.9 L1240.8,907.5 L1244.3,907.5 L1248.4,904.3 L1252.4,903.6 L1255.9,903.0 L1260.0,900.3 L1263.5,905.6 L1267.6,890.3 L1271.7,898.4 L1275.8,894.4 L1279.8,901.0 L1283.9,903.0 L1287.4,906.3 L1291.5,901.7 L1295.6,901.0 L1299.7,901.7 L1303.2,902.3 L1307.2,893.8 L1311.3,899.7 L1315.4,902.3 L1319.5,904.3 L1323.6,905.0 L1328.2,906.3 L1332.9,906.9 L1337.6,905.6 L1343.4,905.0 L1349.2,906.3 L1353.9,906.9 L1358.5,905.6 L1362.0,891.4 L1366.1,861.7 L1370.2,867.0 L1373.7,881.0 L1377.8,872.8 L1381.3,884.4 L1385.4,890.3 L1389.4,889.1 L1393.5,898.4 L1398.2,895.5 L1402.3,892.6 L1405.8,879.8 L1409.3,854.1 L1413.3,853.5 L1417.5,798.7 L1421.0,830.8 L1424.5,858.8 L1428.6,872.8 L1432.6,876.9 L1436.7,892.6 L1440.8,889.1 L1444.3,877.5 L1447.8,855.3 L1451.9,853.5 L1456.0,833.7 L1460.1,836.6 L1464.1,843.6 L1468.2,851.2 L1472.3,850.6 L1476.4,847.1 L1480.5,863.5 L1484.0,885.6 L1487.5,884.4 L1491.5,889.7 L1495.6,890.3 L1499.7,883.3 L1503.2,865.8 L1507.3,859.4 L1511.4,859.4 L1515.4,867.0 L1519.5,875.7 L1523.6,877.5 L1527.7,884.4 L1531.2,898.4 L1535.3,892.6 L1539.3,888.5 L1542.8,886.8 L1546.9,887.9 L1551.0,887.9 L1555.1,884.4 L1558.6,887.9 L1562.7,887.4 L1566.7,887.9 L1570.2,886.2 L1574.3,890.3 L1578.4,894.9 L1583.1,894.9 L1586.6,892.6 L1591.2,894.4 L1594.7,893.8 L1598.2,895.5 L1601.7,892.6 L1605.8,900.3 L1609.9,896.1 L1614.6,899.7 L1618.6,903.0 L1622.7,905.6 L1627.4,899.7 L1633.2,896.1 L1637.9,899.7 L1642.5,903.6 L1646.0,903.0 L1649.5,904.3 L1653.0,893.8 L1657.7,906.3 L1661.8,905.6 L1665.3,896.7 L1669.4,904.3 L1674.0,904.3 L1679.9,905.0 L1685.7,904.3 L1687.0,903.6 L1691.7,905.6 L1696.3,906.3 L1700.4,904.3 L1704.5,903.0 L1708.6,905.0 L1712.6,907.5 L1716.7,908.1 L1720.2,905.6 L1723.7,894.9 L1727.8,892.0 L1732.5,892.0 L1736.0,893.8 L1740.1,897.3 L1744.1,899.0 L1747.6,908.1 L1751.7,906.9 L1755.8,903.6 L1759.9,906.3 L1764.0,906.3 L1768.0,907.5 L1773.3,907.5 L1777.9,905.6 L1782.6,903.6 L1787.3,904.3 L1791.9,905.6 L1796.6,906.9 L1800.1,902.3 L1803.6,889.7 L1807.1,883.9 L1811.2,891.4 L1815.3,891.4 L1818.8,890.3 L1822.8,893.8 L1826.3,887.9 L1830.4,901.0 L1833.9,904.3 L1838.6,905.6 L1843.2,906.3 L1847.9,905.6 L1852.6,906.9 L1857.2,903.0 L1861.9,906.3 L1866.6,908.1 L1871.2,906.3 L1875.9,904.3 L1881.7,903.6 L1886.4,905.6 L1892.2,906.3 L1896.9,904.3 L1900.4,904.3 L1904.5,894.9 L1908.5,892.6 L1913.2,887.9 L1916.7,889.7 L1920.8,887.9 L1924.9,897.3 L1929.0,904.3 L1933.0,906.9 L1937.7,908.1 L1943.5,906.9 L1948.2,899.7 L1952.9,896.7 L1957.5,899.7 L1961.6,905.6 L1965.7,908.1 L1968.2,907.5 L1975.2,906.9 L1983.3,907.5 L1991.5,908.1 L1996.1,906.9 L1999.6,905.6 L2004.3,906.9 L2010.1,907.5 L2016.0,907.5 L2020.1,906.9 L2023.5,902.3 L2027.6,892.6 L2031.7,897.9 L2035.8,905.6 L2039.3,902.3 L2043.4,896.7 L2046.9,894.9 L2051.0,901.0 L2055.0,899.7 L2059.1,899.7 L2063.2,903.6 L2067.3,905.6 L2071.9,906.9 L2077.8,907.5 L2084.8,907.5 L2091.8,906.9 L2098.8,906.3 L2105.8,907.5 L2111.6,906.9 L2117.4,904.3 L2123.2,906.3 L2129.1,905.6 L2134.9,905.0 L2141.3,903.0 L2146.6,905.6 L2152.4,906.3 L2158.2,906.3 L2164.1,904.3 L2168.7,903.6 L2173.4,906.3 L2179.2,904.3 L2183.9,902.3 L2188.5,900.3 L2192.6,899.0 L2196.7,902.3 L2200.8,906.3 L2204.9,903.0 L2209.0,901.7 L2214.2,902.3 L2220.0,904.3 L2225.9,904.3 L2231.7,903.6 L2237.5,904.3 L2242.2,903.6 L2246.8,905.6 L2248.5,905.0 L2254.3,903.6 L2259.0,902.3 L2263.6,905.0 L2269.5,906.3 L2275.3,905.6 L2281.1,904.3 L2287.0,903.0 L2291.6,903.6 L2297.5,905.6 L2303.3,906.9 L2309.1,906.3 L2314.9,905.6 L2320.8,905.0 L2326.6,905.0 L2332.4,904.3 L2338.3,904.3 L2344.1,905.0 L2349.9,905.6 L2355.8,906.3 L2361.6,906.3 L2367.4,905.6 L2373.2,905.6 L2379.1,905.0 L2384.9,903.0 L2389.6,905.0 L2394.2,906.3 L2398.9,907.5 L2403.6,905.6 L2408.2,904.3 L2414.1,905.6 L2419.9,905.0 L2425.7,906.3 L2431.5,906.9 L2437.4,905.6 L2443.2,906.3 L2449.0,906.9 L2454.9,906.9 L2460.7,907.5 L2464.2,907.5" stroke="#0000bf"/>
</g>
<g stroke="#000" stroke-width="5" fill="none" clip-path="url(#cb)">
<line x1="102.35" y1="767.18" x2="2464.10" y2="767.18" stroke-dasharray="40.7 23.783"/>
<line x1="102.35" y1="804.77" x2="2464.10" y2="804.77" stroke-dasharray="32.4 12 8.083 12"/>
<line x1="102.45" y1="880.54" x2="2464.10" y2="880.54" stroke-dasharray="4.0 12.1208" stroke-width="4.8"/>
</g>
<g fill="none" stroke-width="3.9" stroke-linejoin="round" stroke-linecap="round" clip-path="url(#cg)">
<path d="M102.7,897.9 L106.7,903.6 L110.8,906.3 L115.5,907.5 L121.3,907.5 L126.6,908.1 L130.6,902.3 L134.1,886.2 L138.2,884.4 L142.3,868.1 L145.8,878.6 L149.9,886.8 L153.4,894.9 L157.5,905.6 L162.1,908.1 L168.0,908.7 L175.0,909.3 L180.8,908.7 L185.5,905.6 L190.1,907.5 L197.1,908.7 L207.6,907.5 L212.9,903.0 L218.1,904.3 L222.8,907.5 L227.4,906.3 L232.7,892.6 L236.2,897.3 L239.1,890.3 L242.6,898.4 L246.1,882.1 L249.6,891.4 L253.1,899.7 L256.6,906.3 L260.7,908.7 L265.9,904.3 L270.6,901.7 L275.2,898.4 L278.7,890.3 L284.0,883.9 L289.2,886.8 L293.9,892.6 L298.6,899.7 L303.8,899.7 L306.7,907.5 L311.4,907.5 L316.1,905.0 L319.5,897.3 L323.0,882.1 L326.5,870.5 L330.6,837.8 L334.7,841.9 L338.8,836.6 L342.9,853.0 L347.0,870.5 L351.0,893.8 L354.5,897.3 L358.6,905.6 L363.9,907.5 L368.5,906.9 L373.2,894.9 L377.9,891.4 L381.9,882.1 L385.0,889.1 L389.7,899.7 L394.3,899.0 L399.0,903.6 L403.7,906.3 L408.9,907.5 L413.0,905.6 L417.6,901.0 L421.7,891.4 L425.8,881.0 L429.3,872.2 L433.4,872.2 L437.5,875.7 L441.5,886.8 L445.6,894.9 L450.3,905.6 L455.0,908.7 L462.0,908.1 L469.0,905.6 L474.8,902.3 L479.4,901.0 L484.1,903.0 L488.2,903.6 L492.3,906.3 L495.8,905.0 L499.9,903.6 L503.9,907.5 L507.4,905.6 L512.1,903.6 L516.2,894.9 L520.3,891.4 L523.8,884.4 L527.8,878.6 L531.9,880.4 L535.4,892.6 L540.1,893.8 L543.6,901.0 L547.1,907.5 L551.7,908.7 L558.7,906.3 L563.4,894.9 L566.9,881.0 L570.0,862.3 L573.5,849.5 L577.6,842.5 L581.1,799.3 L582.8,791.7 L587.5,790.0 L591.0,772.5 L595.1,765.5 L598.6,779.5 L602.6,772.5 L606.7,781.8 L610.8,793.5 L613.1,755.0 L614.9,726.8 L618.4,647.5 L622.5,679.0 L626.6,646.3 L633.5,690.6 L638.8,705.8 L640.5,726.8 L642.3,753.2 L645.8,738.7 L649.9,799.3 L653.4,771.3 L657.5,803.4 L662.1,793.5 L665.6,753.8 L670.3,757.3 L673.8,780.6 L677.3,745.1 L681.4,808.0 L684.9,787.6 L688.9,808.6 L693.0,798.7 L697.1,821.4 L701.2,824.4 L704.7,844.2 L708.8,834.9 L712.8,834.3 L716.3,814.5 L721.0,810.4 L725.1,813.3 L728.6,834.9 L732.7,829.1 L736.2,853.5 L739.7,864.0 L743.7,870.5 L747.8,883.3 L751.3,882.7 L755.4,886.8 L759.5,890.9 L763.6,885.6 L767.6,889.7 L771.7,883.3 L775.8,884.4 L779.9,876.3 L784.0,872.8 L788.1,875.7 L792.7,878.0 L798.5,884.4 L803.2,876.3 L807.3,875.7 L811.4,870.5 L815.5,872.8 L819.5,855.3 L823.0,844.8 L827.1,848.3 L831.2,843.6 L835.3,840.7 L839.4,856.5 L842.9,868.7 L846.9,858.8 L851.0,857.6 L855.1,856.5 L858.2,848.3 L861.1,836.6 L862.2,821.5 L863.4,799.1 L865.7,782.8 L870.4,772.9 L873.9,788.0 L878.0,761.8 L882.1,721.0 L886.7,728.6 L889.6,808.4 L893.7,771.1 L897.8,784.0 L901.9,804.9 L906.0,823.2 L910.1,796.8 L913.5,777.0 L917.6,792.1 L921.1,815.4 L925.2,797.4 L929.3,822.6 L933.4,821.5 L937.5,841.3 L941.0,831.4 L945.0,864.6 L949.1,860.0 L953.2,869.3 L957.3,863.5 L961.4,850.6 L964.9,853.5 L968.9,818.0 L972.4,800.3 L976.5,803.8 L980.0,788.6 L984.1,822.6 L988.2,810.4 L992.3,801.1 L996.3,841.3 L1000.4,849.5 L1003.9,854.7 L1007.4,856.5 L1012.1,853.5 L1016.2,850.6 L1020.2,836.6 L1023.7,831.4 L1027.8,844.2 L1031.9,848.3 L1036.0,856.5 L1040.1,871.6 L1043.6,875.7 L1047.6,876.9 L1051.7,889.1 L1055.2,882.1 L1059.3,866.4 L1063.4,866.4 L1067.5,851.8 L1071.5,836.6 L1075.0,820.9 L1079.1,828.5 L1083.2,837.8 L1087.3,841.3 L1090.8,860.0 L1094.9,871.6 L1099.0,878.6 L1102.4,885.0 L1106.5,876.3 L1110.6,863.5 L1114.1,837.8 L1118.2,816.8 L1121.7,782.8 L1129.9,837.8 L1134.5,807.5 L1137.6,802.8 L1141.1,846.0 L1145.2,850.6 L1149.8,852.4 L1153.9,871.6 L1158.0,860.0 L1162.1,836.6 L1166.1,814.5 L1169.6,796.4 L1173.7,805.2 L1177.2,828.5 L1181.3,828.5 L1184.8,860.0 L1188.3,879.8 L1192.4,884.4 L1196.5,889.7 L1200.0,894.9 L1204.0,892.6 L1208.1,883.3 L1212.2,876.3 L1216.3,872.2 L1220.4,867.5 L1224.4,877.5 L1229.1,881.0 L1233.2,882.1 L1236.7,897.3 L1240.8,903.6 L1244.9,902.3 L1248.9,899.7 L1251.9,895.5 L1255.3,895.5 L1258.8,874.0 L1262.9,861.1 L1267.6,856.5 L1271.7,861.7 L1275.8,868.1 L1279.8,885.6 L1283.9,891.4 L1287.4,900.3 L1292.1,900.3 L1296.7,901.0 L1300.2,901.7 L1303.7,894.9 L1307.2,889.1 L1311.3,887.9 L1315.4,882.7 L1319.5,886.8 L1323.6,896.1 L1327.1,903.6 L1331.7,907.5 L1335.2,908.7 L1339.9,906.3 L1344.6,904.3 L1349.2,903.0 L1353.3,896.1 L1356.8,876.3 L1360.9,851.8 L1366.1,830.8 L1370.2,836.6 L1374.3,850.6 L1378.4,874.0 L1382.4,881.0 L1386.5,884.4 L1390.0,894.9 L1393.5,887.4 L1397.0,893.8 L1400.5,889.7 L1404.0,877.5 L1407.5,860.0 L1411.0,846.0 L1412.8,839.0 L1417.5,826.1 L1421.0,835.5 L1425.1,841.3 L1429.2,849.5 L1433.2,828.5 L1436.7,811.6 L1440.8,824.4 L1444.3,802.6 L1448.4,756.0 L1452.5,766.5 L1456.6,661.3 L1460.6,628.1 L1464.7,647.3 L1468.8,651.4 L1472.3,701.0 L1476.4,718.4 L1479.3,760.6 L1483.4,786.3 L1488.6,796.8 L1495.6,803.8 L1499.1,754.8 L1503.2,737.3 L1507.9,736.7 L1511.9,744.3 L1515.4,765.9 L1519.5,764.1 L1523.6,802.6 L1527.7,813.3 L1531.2,825.0 L1534.7,850.6 L1537.0,865.8 L1539.3,870.5 L1542.8,850.6 L1546.9,834.3 L1551.0,793.3 L1555.1,760.6 L1559.2,778.7 L1563.2,767.0 L1566.7,787.5 L1570.2,800.3 L1573.7,830.8 L1576.1,853.0 L1579.6,869.3 L1583.1,877.5 L1586.6,886.8 L1591.2,892.6 L1595.9,883.3 L1600.0,869.3 L1603.5,865.2 L1606.4,864.0 L1609.9,877.5 L1614.6,889.1 L1619.2,901.0 L1623.9,908.7 L1628.5,909.8 L1633.2,908.7 L1639.0,908.1 L1642.5,906.3 L1646.0,893.8 L1649.5,877.5 L1653.6,868.1 L1657.7,860.5 L1661.8,875.1 L1665.9,873.4 L1669.9,890.3 L1674.0,897.3 L1677.5,905.6 L1682.2,909.3 L1687.0,907.5 L1691.7,906.9 L1696.3,903.6 L1700.4,900.3 L1704.5,901.0 L1708.6,902.3 L1712.6,906.3 L1717.3,908.1 L1723.1,905.6 L1727.8,903.6 L1732.5,904.3 L1738.3,903.6 L1743.0,905.0 L1747.6,907.5 L1752.3,904.3 L1755.8,903.6 L1759.9,903.0 L1764.0,904.3 L1768.6,906.9 L1773.3,906.3 L1777.9,903.6 L1782.6,904.3 L1787.3,906.9 L1791.9,908.1 L1796.6,908.7 L1802.4,906.9 L1808.3,906.3 L1814.1,906.9 L1819.9,905.6 L1825.8,903.6 L1830.4,905.6 L1835.1,907.5 L1839.7,905.6 L1843.2,900.3 L1846.7,897.3 L1850.2,894.9 L1853.7,890.9 L1857.2,898.4 L1860.7,904.3 L1865.4,908.1 L1871.2,909.3 L1878.2,909.3 L1887.6,908.7 L1895.7,908.1 L1901.5,906.9 L1907.4,905.0 L1913.2,904.3 L1919.0,905.0 L1924.9,906.3 L1930.7,908.7 L1938.9,909.3 L1947.0,906.3 L1951.7,904.3 L1957.5,906.3 L1962.2,908.7 L1966.8,906.9 L1968.2,906.3 L1975.2,905.6 L1983.3,906.9 L1991.5,908.1 L1999.6,907.5 L2009.0,908.1 L2018.3,908.7 L2024.1,906.9 L2027.6,902.3 L2031.1,892.6 L2035.8,886.8 L2040.5,882.1 L2046.3,881.0 L2051.0,886.8 L2055.0,878.0 L2059.1,887.9 L2063.2,897.3 L2067.3,900.3 L2070.8,907.5 L2075.4,909.3 L2082.4,908.7 L2089.4,908.1 L2094.1,906.3 L2098.2,903.0 L2101.7,899.7 L2105.8,904.3 L2110.4,907.5 L2116.2,908.7 L2122.1,907.5 L2125.6,897.3 L2129.7,901.0 L2133.7,898.4 L2137.2,894.9 L2141.3,890.9 L2145.4,892.6 L2149.5,896.7 L2153.6,899.7 L2158.2,906.3 L2162.9,908.7 L2168.7,908.1 L2174.6,907.5 L2180.4,908.1 L2186.2,907.5 L2192.0,905.6 L2196.7,908.1 L2201.4,904.3 L2206.0,901.7 L2210.7,906.3 L2216.5,908.1 L2223.5,907.5 L2230.5,906.3 L2236.4,906.9 L2239.9,902.3 L2243.3,894.9 L2246.8,899.7 L2248.5,902.3 L2252.0,901.7 L2256.1,899.7 L2260.1,908.1 L2264.8,909.3 L2270.6,908.7 L2275.3,906.3 L2278.8,903.6 L2282.3,906.9 L2285.8,905.6 L2290.5,900.3 L2295.1,896.7 L2299.2,891.4 L2303.3,887.4 L2307.4,891.4 L2311.4,897.9 L2314.9,901.0 L2319.0,902.3 L2322.5,896.1 L2326.6,903.0 L2330.1,899.7 L2334.2,894.4 L2338.3,889.7 L2342.3,892.6 L2346.4,894.4 L2351.1,896.7 L2355.8,902.3 L2360.4,908.7 L2366.2,909.3 L2373.2,904.3 L2377.9,908.1 L2382.6,907.5 L2386.1,902.3 L2389.6,894.9 L2393.1,896.1 L2397.2,895.5 L2401.2,899.0 L2405.9,900.3 L2410.6,902.3 L2415.2,905.6 L2419.9,906.9 L2425.7,908.1 L2431.5,908.7 L2437.4,907.5 L2443.2,906.9 L2449.0,905.6 L2454.9,906.3 L2459.5,903.6 L2464.2,905.6" stroke="#00bc00"/>
</g>
<rect x="1673.80" y="634.10" width="238.90" height="201.70" fill="#fff" stroke="#262626" stroke-width="1.75"/>
<g stroke="#000" stroke-width="5" fill="none">
<line x1="1690.10" y1="672.60" x2="1807.70" y2="672.60" stroke-dasharray="40.7 23.783"/>
<line x1="1690.10" y1="735.10" x2="1807.70" y2="735.10" stroke-dasharray="32.4 12 8.083 12"/>
<line x1="1690.10" y1="797.30" x2="1807.70" y2="797.30" stroke-dasharray="4.0 12.1208" stroke-width="4.8"/>
</g>
<text class="th k" x="1824.80" y="682.90" font-size="35">θ</text>
<text class="k" x="1843.80 1860.20" y="699.40" font-size="29.6">sf</text>
<text class="th k" x="1824.80" y="745.40" font-size="35">θ</text>
<text class="k" x="1843.80 1868.00" y="761.90" font-size="29.6">wo</text>
<text class="th k" x="1824.80" y="807.60" font-size="35">θ</text>
<text class="k" x="1843.80 1864.40 1876.20 1884.20" y="824.10" font-size="29.6">crit</text>
<text x="92.0" y="414.80" font-size="41.5" text-anchor="end">0</text>
<text x="92.0" y="245.55" font-size="41.5" text-anchor="end">1</text>
<text x="92.0" y="76.30" font-size="41.5" text-anchor="end">2</text>
<text x="92.0" y="922.30" font-size="41.5" text-anchor="end">0</text>
<text x="92.0" y="809.57" font-size="41.5" text-anchor="end">1</text>
<text x="92.0" y="696.83" font-size="41.5" text-anchor="end">2</text>
<text x="92.0" y="584.10" font-size="41.5" text-anchor="end">3</text>
<text x="102.15" y="958.4" font-size="40.5" text-anchor="middle">145</text>
<text x="574.42" y="958.4" font-size="40.5" text-anchor="middle">150</text>
<text x="1046.69" y="958.4" font-size="40.5" text-anchor="middle">155</text>
<text x="1518.96" y="958.4" font-size="40.5" text-anchor="middle">160</text>
<text x="1991.23" y="958.4" font-size="40.5" text-anchor="middle">165</text>
<text x="2463.50" y="958.4" font-size="40.5" text-anchor="middle">170</text>
<text x="1283.42" y="1014.7" font-size="44.7" text-anchor="middle">Year Day (2016)</text>
<text class="k" x="2.8" y="34.4" font-size="43.5">A</text>
<text class="k" x="3.6" y="543.0" font-size="42.5">B</text>
<g transform="translate(0,294.50) rotate(-90)">
<text class="th" x="0.0" y="33.2" font-size="40.3">θ</text>
<text x="24.00 60.30 84.80 103.30" y="54.20" font-size="34.2">Wave</text>
</g>
<g transform="translate(0,825.60) rotate(-90)">
<text class="th" x="0.0" y="33.2" font-size="40.3">θ</text>
<text x="21.80 50.24 74.45 90.24 106.03 128.17 152.38" y="55.80" font-size="38.0">Current</text>
</g>
</svg></body></html>
